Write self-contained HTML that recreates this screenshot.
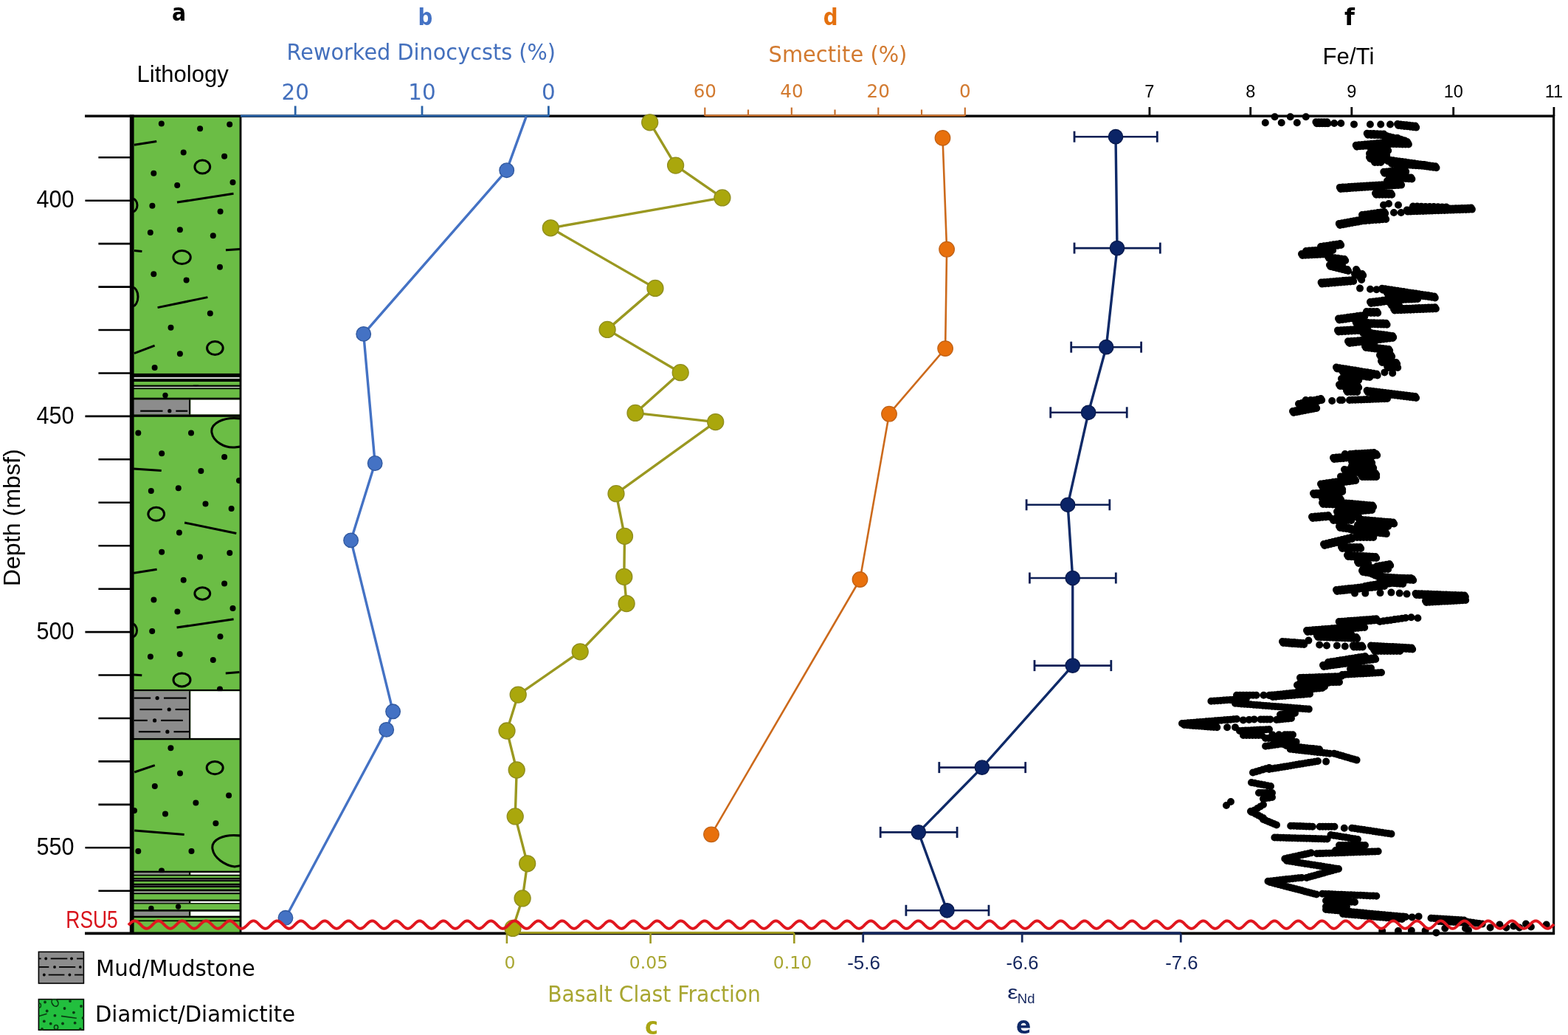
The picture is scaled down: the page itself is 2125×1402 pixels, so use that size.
<!DOCTYPE html>
<html><head><meta charset="utf-8"><title>Figure</title><style>html,body{margin:0;padding:0;background:#fff;overflow:hidden}svg{display:block}</style></head><body>
<svg width="2125" height="1402" viewBox="0 0 2125 1402">
<rect width="2125" height="1402" fill="#fff"/>
<defs><clipPath id="lc"><rect x="181" y="157" width="144" height="1106"/></clipPath><clipPath id="lg"><rect x="52" y="1353" width="62" height="43"/></clipPath></defs>
<rect x="181" y="157" width="144" height="1106" fill="#6bbd45"/>
<g clip-path="url(#lc)">
<circle cx="218.8" cy="167.4" r="4" fill="#000"/>
<circle cx="271.1" cy="174.3" r="4" fill="#000"/>
<circle cx="311.2" cy="168.5" r="4" fill="#000"/>
<circle cx="248.7" cy="206.5" r="4" fill="#000"/>
<circle cx="304.1" cy="211.8" r="4" fill="#000"/>
<circle cx="208.3" cy="234.7" r="4" fill="#000"/>
<circle cx="240.2" cy="251.1" r="4" fill="#000"/>
<circle cx="315.5" cy="247.1" r="4" fill="#000"/>
<circle cx="206.4" cy="278.8" r="4" fill="#000"/>
<circle cx="298.6" cy="286.5" r="4" fill="#000"/>
<circle cx="203.8" cy="315" r="4" fill="#000"/>
<circle cx="243.9" cy="311.3" r="4" fill="#000"/>
<circle cx="288.8" cy="319.2" r="4" fill="#000"/>
<circle cx="298" cy="361.7" r="4" fill="#000"/>
<circle cx="208.3" cy="371.2" r="4" fill="#000"/>
<circle cx="252.6" cy="379.4" r="4" fill="#000"/>
<circle cx="284.8" cy="424.6" r="4" fill="#000"/>
<circle cx="231.5" cy="443.8" r="4" fill="#000"/>
<circle cx="243.9" cy="479.2" r="4" fill="#000"/>
<circle cx="209.6" cy="497.9" r="4" fill="#000"/>
<circle cx="224" cy="535.4" r="4" fill="#000"/>
<circle cx="265.5" cy="519.8" r="4" fill="#000"/>
<circle cx="187.3" cy="586.4" r="4" fill="#000"/>
<circle cx="259" cy="586.4" r="4" fill="#000"/>
<circle cx="219.2" cy="614.3" r="4" fill="#000"/>
<circle cx="304.1" cy="619" r="4" fill="#000"/>
<circle cx="272.4" cy="637.9" r="4" fill="#000"/>
<circle cx="324" cy="651" r="4" fill="#000"/>
<circle cx="204.8" cy="664.9" r="4" fill="#000"/>
<circle cx="241.8" cy="661.3" r="4" fill="#000"/>
<circle cx="278.5" cy="682.4" r="4" fill="#000"/>
<circle cx="313.6" cy="689.1" r="4" fill="#000"/>
<circle cx="242.9" cy="721.4" r="4" fill="#000"/>
<circle cx="219.2" cy="747.8" r="4" fill="#000"/>
<circle cx="271" cy="754.5" r="4" fill="#000"/>
<circle cx="311.3" cy="748.9" r="4" fill="#000"/>
<circle cx="248.7" cy="785.7" r="4" fill="#000"/>
<circle cx="304.1" cy="790.4" r="4" fill="#000"/>
<circle cx="208.4" cy="812.4" r="4" fill="#000"/>
<circle cx="240.4" cy="828.5" r="4" fill="#000"/>
<circle cx="315.5" cy="824.1" r="4" fill="#000"/>
<circle cx="206.2" cy="855" r="4" fill="#000"/>
<circle cx="298.5" cy="862.2" r="4" fill="#000"/>
<circle cx="203.9" cy="889.4" r="4" fill="#000"/>
<circle cx="243.7" cy="886.1" r="4" fill="#000"/>
<circle cx="288.8" cy="893.9" r="4" fill="#000"/>
<circle cx="298" cy="933.4" r="4" fill="#000"/>
<circle cx="231.4" cy="1013.2" r="4" fill="#000"/>
<circle cx="244" cy="1047.4" r="4" fill="#000"/>
<circle cx="209.8" cy="1065" r="4" fill="#000"/>
<circle cx="310.1" cy="1077.4" r="4" fill="#000"/>
<circle cx="265.4" cy="1087.6" r="4" fill="#000"/>
<circle cx="224" cy="1102.5" r="4" fill="#000"/>
<circle cx="292.4" cy="1115.3" r="4" fill="#000"/>
<circle cx="187.3" cy="1153.1" r="4" fill="#000"/>
<circle cx="259.5" cy="1153.1" r="4" fill="#000"/>
<circle cx="219" cy="1179.4" r="4" fill="#000"/>
<circle cx="182" cy="1098" r="4" fill="#000"/>
<circle cx="204.9" cy="1230.4" r="4" fill="#000"/>
<circle cx="241.6" cy="1228.1" r="4" fill="#000"/>
<ellipse cx="274.3" cy="226" rx="10.4" ry="9" fill="none" stroke="#000" stroke-width="3"/>
<ellipse cx="246.6" cy="348.5" rx="11.7" ry="9" fill="none" stroke="#000" stroke-width="3"/>
<ellipse cx="291.4" cy="471.5" rx="10.8" ry="9" fill="none" stroke="#000" stroke-width="3"/>
<ellipse cx="179" cy="278" rx="7" ry="9" fill="none" stroke="#000" stroke-width="3"/>
<ellipse cx="179" cy="402" rx="8" ry="13" fill="none" stroke="#000" stroke-width="3"/>
<ellipse cx="211.7" cy="696.3" rx="10.9" ry="9" fill="none" stroke="#000" stroke-width="3"/>
<ellipse cx="274.3" cy="804" rx="10.4" ry="8.2" fill="none" stroke="#000" stroke-width="3"/>
<ellipse cx="246.5" cy="920.9" rx="11.5" ry="9" fill="none" stroke="#000" stroke-width="3"/>
<ellipse cx="179" cy="854" rx="6.5" ry="9" fill="none" stroke="#000" stroke-width="3"/>
<ellipse cx="291.2" cy="1040.1" rx="11" ry="8.6" fill="none" stroke="#000" stroke-width="3"/>
<line x1="181.9" y1="196.2" x2="212.2" y2="191.4" stroke="#000" stroke-width="3" stroke-linecap="butt"/>
<line x1="240" y1="274.1" x2="316.5" y2="262.2" stroke="#000" stroke-width="3" stroke-linecap="butt"/>
<line x1="181.9" y1="339.5" x2="192.4" y2="340.6" stroke="#000" stroke-width="3" stroke-linecap="butt"/>
<line x1="306" y1="338.8" x2="325.8" y2="337.4" stroke="#000" stroke-width="3" stroke-linecap="butt"/>
<line x1="213.6" y1="416.6" x2="281.4" y2="402.6" stroke="#000" stroke-width="3" stroke-linecap="butt"/>
<line x1="181.9" y1="478.7" x2="209.6" y2="468.1" stroke="#000" stroke-width="3" stroke-linecap="butt"/>
<line x1="181.1" y1="635.1" x2="218.7" y2="637.4" stroke="#000" stroke-width="3" stroke-linecap="butt"/>
<line x1="250.1" y1="708" x2="320.3" y2="722.5" stroke="#000" stroke-width="3" stroke-linecap="butt"/>
<line x1="181.1" y1="776.2" x2="212.6" y2="771.2" stroke="#000" stroke-width="3" stroke-linecap="butt"/>
<line x1="239.6" y1="850" x2="316.6" y2="838.8" stroke="#000" stroke-width="3" stroke-linecap="butt"/>
<line x1="181.1" y1="913.9" x2="192.3" y2="914.8" stroke="#000" stroke-width="3" stroke-linecap="butt"/>
<line x1="305.8" y1="912" x2="324.4" y2="910.6" stroke="#000" stroke-width="3" stroke-linecap="butt"/>
<line x1="182.2" y1="1046" x2="209.8" y2="1036.6" stroke="#000" stroke-width="3" stroke-linecap="butt"/>
<line x1="182.2" y1="1124.9" x2="249.7" y2="1130.4" stroke="#000" stroke-width="3" stroke-linecap="butt"/>
<path d="M326,567 C302,564 285,574 287,586 C289,598 304,607 318,606 L326,605" fill="none" stroke="#000" stroke-width="3"/>
<path d="M326,1132 C302,1129 286,1138 288,1150 C290,1162 304,1172 318,1174 L326,1172.6" fill="none" stroke="#000" stroke-width="3"/>
<rect x="181" y="505.9" width="144" height="5" fill="#000"/>
<rect x="181" y="510.9" width="144" height="2.3" fill="#d0d0d0"/>
<rect x="181" y="513.2" width="144" height="3.8" fill="#000"/>
<rect x="181" y="517" width="144" height="4.6" fill="#6bbd45"/>
<rect x="181" y="521.6" width="144" height="2.3" fill="#000"/>
<rect x="181" y="523.9" width="144" height="1.6" fill="#d0d0d0"/>
<rect x="181" y="525.5" width="144" height="1.9" fill="#000"/>
<rect x="181" y="527.4" width="144" height="11.3" fill="#6bbd45"/>
<rect x="181" y="538.7" width="144" height="2.9" fill="#000"/>
<rect x="181" y="541.6" width="75" height="19.9" fill="#8c8c8c"/>
<rect x="256" y="541.6" width="2.4" height="19.9" fill="#000"/>
<rect x="258.4" y="541.6" width="66.6" height="19.9" fill="#fff"/>
<rect x="181" y="561.5" width="144" height="3.3" fill="#000"/>
<rect x="181" y="933.9" width="144" height="2.4" fill="#000"/>
<rect x="181" y="936.3" width="75" height="63.6" fill="#8c8c8c"/>
<rect x="256" y="936.3" width="2.4" height="63.6" fill="#000"/>
<rect x="258.4" y="936.3" width="66.6" height="63.6" fill="#fff"/>
<rect x="181" y="999.9" width="144" height="2.4" fill="#000"/>
<rect x="181" y="1179.7" width="144" height="2.5" fill="#000"/>
<rect x="181" y="1182.2" width="75" height="2.6" fill="#8c8c8c"/>
<rect x="256" y="1182.2" width="2.4" height="2.6" fill="#000"/>
<rect x="258.4" y="1182.2" width="66.6" height="2.6" fill="#fff"/>
<rect x="181" y="1184.8" width="144" height="1.9" fill="#000"/>
<rect x="181" y="1186.7" width="144" height="2.3" fill="#6bbd45"/>
<rect x="181" y="1189" width="144" height="5.3" fill="#000"/>
<rect x="181" y="1191" width="144" height="1.3" fill="#5a5a5a"/>
<rect x="181" y="1194.3" width="144" height="2.5" fill="#6bbd45"/>
<rect x="181" y="1196.8" width="144" height="5.6" fill="#000"/>
<rect x="181" y="1199.2" width="144" height="1" fill="#5a5a5a"/>
<rect x="181" y="1202.4" width="144" height="2.2" fill="#6bbd45"/>
<rect x="181" y="1204.6" width="144" height="3.1" fill="#000"/>
<rect x="181" y="1207.7" width="144" height="1.5" fill="#d0d0d0"/>
<rect x="181" y="1209.2" width="144" height="2.3" fill="#000"/>
<rect x="181" y="1211.5" width="144" height="7" fill="#6bbd45"/>
<rect x="181" y="1218.5" width="144" height="2.4" fill="#000"/>
<rect x="181" y="1220.9" width="75" height="2.3" fill="#8c8c8c"/>
<rect x="256" y="1220.9" width="2.4" height="2.3" fill="#000"/>
<rect x="258.4" y="1220.9" width="66.6" height="2.3" fill="#fff"/>
<rect x="181" y="1223.2" width="144" height="1.5" fill="#000"/>
<rect x="181" y="1224.7" width="144" height="7.4" fill="#6bbd45"/>
<rect x="181" y="1232.1" width="144" height="2.7" fill="#000"/>
<rect x="181" y="1234.8" width="75" height="5.9" fill="#8c8c8c"/>
<rect x="256" y="1234.8" width="2.4" height="5.9" fill="#000"/>
<rect x="258.4" y="1234.8" width="66.6" height="5.9" fill="#fff"/>
<rect x="181" y="1240.7" width="144" height="2.7" fill="#000"/>
<rect x="181" y="1243.4" width="144" height="3.1" fill="#6bbd45"/>
<rect x="181" y="1246.5" width="144" height="1.9" fill="#000"/>
<rect x="181" y="1248.4" width="144" height="14.1" fill="#6bbd45"/>
<circle cx="204.9" cy="1230.4" r="3.7" fill="#000"/>
<circle cx="241.6" cy="1228.1" r="3.7" fill="#000"/>
<circle cx="224" cy="535.4" r="3.7" fill="#000"/>
<line x1="190.2" y1="556.7" x2="220.5" y2="556.7" stroke="#000" stroke-width="2.2" stroke-linecap="butt"/>
<circle cx="229.8" cy="556.7" r="2.6" fill="#000"/>
<line x1="238.3" y1="556.7" x2="254.2" y2="556.7" stroke="#000" stroke-width="2.2" stroke-linecap="butt"/>
<line x1="181.6" y1="945.6" x2="204.2" y2="945.6" stroke="#000" stroke-width="2.2" stroke-linecap="butt"/>
<circle cx="213.1" cy="945.6" r="2.6" fill="#000"/>
<line x1="222" y1="945.6" x2="252.7" y2="945.6" stroke="#000" stroke-width="2.2" stroke-linecap="butt"/>
<line x1="189.4" y1="961" x2="219.7" y2="961" stroke="#000" stroke-width="2.2" stroke-linecap="butt"/>
<circle cx="229.2" cy="961" r="2.6" fill="#000"/>
<line x1="237.6" y1="961" x2="256" y2="961" stroke="#000" stroke-width="2.2" stroke-linecap="butt"/>
<line x1="181.6" y1="975.9" x2="199.8" y2="975.9" stroke="#000" stroke-width="2.2" stroke-linecap="butt"/>
<circle cx="209.6" cy="975.9" r="2.6" fill="#000"/>
<line x1="218.2" y1="975.9" x2="247.8" y2="975.9" stroke="#000" stroke-width="2.2" stroke-linecap="butt"/>
<line x1="187.9" y1="991.2" x2="217.4" y2="991.2" stroke="#000" stroke-width="2.2" stroke-linecap="butt"/>
<circle cx="226.9" cy="991.2" r="2.6" fill="#000"/>
<line x1="235.5" y1="991.2" x2="256" y2="991.2" stroke="#000" stroke-width="2.2" stroke-linecap="butt"/>
</g>
<line x1="178.7" y1="155.5" x2="178.7" y2="1266" stroke="#000" stroke-width="5.8" stroke-linecap="butt"/>
<line x1="326" y1="156" x2="326" y2="1265" stroke="#000" stroke-width="2.8" stroke-linecap="butt"/>
<line x1="115" y1="157.3" x2="2107" y2="157.3" stroke="#000" stroke-width="3.4" stroke-linecap="butt"/>
<line x1="115" y1="1264.4" x2="2107" y2="1264.4" stroke="#000" stroke-width="3.8" stroke-linecap="butt"/>
<line x1="2105.6" y1="156" x2="2105.6" y2="1265.8" stroke="#000" stroke-width="3.2" stroke-linecap="butt"/>
<line x1="133.4" y1="213.3" x2="177" y2="213.3" stroke="#000" stroke-width="2.6" stroke-linecap="butt"/>
<line x1="115.4" y1="271.7" x2="177" y2="271.7" stroke="#000" stroke-width="2.6" stroke-linecap="butt"/>
<line x1="133.4" y1="330.1" x2="177" y2="330.1" stroke="#000" stroke-width="2.6" stroke-linecap="butt"/>
<line x1="133.4" y1="388.6" x2="177" y2="388.6" stroke="#000" stroke-width="2.6" stroke-linecap="butt"/>
<line x1="133.4" y1="447" x2="177" y2="447" stroke="#000" stroke-width="2.6" stroke-linecap="butt"/>
<line x1="133.4" y1="505.5" x2="177" y2="505.5" stroke="#000" stroke-width="2.6" stroke-linecap="butt"/>
<line x1="115.4" y1="563.9" x2="177" y2="563.9" stroke="#000" stroke-width="2.6" stroke-linecap="butt"/>
<line x1="133.4" y1="622.3" x2="177" y2="622.3" stroke="#000" stroke-width="2.6" stroke-linecap="butt"/>
<line x1="133.4" y1="680.8" x2="177" y2="680.8" stroke="#000" stroke-width="2.6" stroke-linecap="butt"/>
<line x1="133.4" y1="739.2" x2="177" y2="739.2" stroke="#000" stroke-width="2.6" stroke-linecap="butt"/>
<line x1="133.4" y1="797.7" x2="177" y2="797.7" stroke="#000" stroke-width="2.6" stroke-linecap="butt"/>
<line x1="115.4" y1="856.1" x2="177" y2="856.1" stroke="#000" stroke-width="2.6" stroke-linecap="butt"/>
<line x1="133.4" y1="914.5" x2="177" y2="914.5" stroke="#000" stroke-width="2.6" stroke-linecap="butt"/>
<line x1="133.4" y1="973" x2="177" y2="973" stroke="#000" stroke-width="2.6" stroke-linecap="butt"/>
<line x1="133.4" y1="1031.4" x2="177" y2="1031.4" stroke="#000" stroke-width="2.6" stroke-linecap="butt"/>
<line x1="133.4" y1="1089.9" x2="177" y2="1089.9" stroke="#000" stroke-width="2.6" stroke-linecap="butt"/>
<line x1="115.4" y1="1148.3" x2="177" y2="1148.3" stroke="#000" stroke-width="2.6" stroke-linecap="butt"/>
<line x1="133.4" y1="1206.7" x2="177" y2="1206.7" stroke="#000" stroke-width="2.6" stroke-linecap="butt"/>
<text x="49.6" y="281.4" font-family="'Liberation Sans', Arial, sans-serif" font-size="32.3" fill="#000" text-anchor="start" font-weight="normal" textLength="51" lengthAdjust="spacingAndGlyphs">400</text>
<text x="49.6" y="573.6" font-family="'Liberation Sans', Arial, sans-serif" font-size="32.3" fill="#000" text-anchor="start" font-weight="normal" textLength="51" lengthAdjust="spacingAndGlyphs">450</text>
<text x="49.6" y="865.8" font-family="'Liberation Sans', Arial, sans-serif" font-size="32.3" fill="#000" text-anchor="start" font-weight="normal" textLength="51" lengthAdjust="spacingAndGlyphs">500</text>
<text x="49.6" y="1158" font-family="'Liberation Sans', Arial, sans-serif" font-size="32.3" fill="#000" text-anchor="start" font-weight="normal" textLength="51" lengthAdjust="spacingAndGlyphs">550</text>
<text x="0" y="0" font-family="'Liberation Sans', Arial, sans-serif" font-size="32" fill="#000" text-anchor="start" font-weight="normal" textLength="186" lengthAdjust="spacingAndGlyphs" transform="translate(27.4,794.3) rotate(-90)">Depth (mbsf)</text>
<line x1="326" y1="157.1" x2="744.4" y2="157.1" stroke="#2a63a8" stroke-width="3" stroke-linecap="butt"/>
<line x1="400.2" y1="143.5" x2="400.2" y2="157" stroke="#2a63a8" stroke-width="2.8" stroke-linecap="butt"/>
<text x="400.2" y="135.3" font-family="'DejaVu Sans', sans-serif" font-size="29.4" fill="#4470bd" text-anchor="middle" font-weight="normal">20</text>
<line x1="572" y1="143.5" x2="572" y2="157" stroke="#2a63a8" stroke-width="2.8" stroke-linecap="butt"/>
<text x="572" y="135.3" font-family="'DejaVu Sans', sans-serif" font-size="29.4" fill="#4470bd" text-anchor="middle" font-weight="normal">10</text>
<line x1="743.4" y1="143.5" x2="743.4" y2="157" stroke="#2a63a8" stroke-width="2.8" stroke-linecap="butt"/>
<text x="743.4" y="135.3" font-family="'DejaVu Sans', sans-serif" font-size="29.4" fill="#4470bd" text-anchor="middle" font-weight="normal">0</text>
<line x1="955.3" y1="156.5" x2="1307.8" y2="156.5" stroke="#c8702c" stroke-width="2.4" stroke-linecap="butt"/>
<line x1="955.3" y1="145.6" x2="955.3" y2="157" stroke="#c8702c" stroke-width="2.2" stroke-linecap="butt"/>
<line x1="1014" y1="148.5" x2="1014" y2="157" stroke="#c8702c" stroke-width="2.2" stroke-linecap="butt"/>
<line x1="1072.8" y1="145.6" x2="1072.8" y2="157" stroke="#c8702c" stroke-width="2.2" stroke-linecap="butt"/>
<line x1="1131.5" y1="148.5" x2="1131.5" y2="157" stroke="#c8702c" stroke-width="2.2" stroke-linecap="butt"/>
<line x1="1190.3" y1="145.6" x2="1190.3" y2="157" stroke="#c8702c" stroke-width="2.2" stroke-linecap="butt"/>
<line x1="1249" y1="148.5" x2="1249" y2="157" stroke="#c8702c" stroke-width="2.2" stroke-linecap="butt"/>
<line x1="1307.8" y1="145.6" x2="1307.8" y2="157" stroke="#c8702c" stroke-width="2.2" stroke-linecap="butt"/>
<text x="955.3" y="131.8" font-family="'DejaVu Sans', sans-serif" font-size="24.6" fill="#d27a30" text-anchor="middle" font-weight="normal">60</text>
<text x="1072.9" y="131.8" font-family="'DejaVu Sans', sans-serif" font-size="24.6" fill="#d27a30" text-anchor="middle" font-weight="normal">40</text>
<text x="1190.2" y="131.8" font-family="'DejaVu Sans', sans-serif" font-size="24.6" fill="#d27a30" text-anchor="middle" font-weight="normal">20</text>
<text x="1307.8" y="131.8" font-family="'DejaVu Sans', sans-serif" font-size="24.6" fill="#d27a30" text-anchor="middle" font-weight="normal">0</text>
<line x1="1557.9" y1="145" x2="1557.9" y2="157" stroke="#000" stroke-width="2.8" stroke-linecap="butt"/>
<text x="1557.9" y="131.5" font-family="'Liberation Sans', Arial, sans-serif" font-size="23.5" fill="#000" text-anchor="middle" font-weight="normal">7</text>
<line x1="1694.7" y1="145" x2="1694.7" y2="157" stroke="#000" stroke-width="2.8" stroke-linecap="butt"/>
<text x="1694.7" y="131.5" font-family="'Liberation Sans', Arial, sans-serif" font-size="23.5" fill="#000" text-anchor="middle" font-weight="normal">8</text>
<line x1="1831.8" y1="145" x2="1831.8" y2="157" stroke="#000" stroke-width="2.8" stroke-linecap="butt"/>
<text x="1831.8" y="131.5" font-family="'Liberation Sans', Arial, sans-serif" font-size="23.5" fill="#000" text-anchor="middle" font-weight="normal">9</text>
<line x1="1969.7" y1="145" x2="1969.7" y2="157" stroke="#000" stroke-width="2.8" stroke-linecap="butt"/>
<text x="1969.7" y="131.5" font-family="'Liberation Sans', Arial, sans-serif" font-size="23.5" fill="#000" text-anchor="middle" font-weight="normal">10</text>
<line x1="2105.9" y1="145" x2="2105.9" y2="157" stroke="#000" stroke-width="2.8" stroke-linecap="butt"/>
<text x="2105.9" y="131.5" font-family="'Liberation Sans', Arial, sans-serif" font-size="23.5" fill="#000" text-anchor="middle" font-weight="normal">11</text>
<line x1="686.9" y1="1263.6" x2="1076.3" y2="1263.6" stroke="#9f9a22" stroke-width="3" stroke-linecap="butt"/>
<line x1="686.9" y1="1264" x2="686.9" y2="1278" stroke="#9f9a22" stroke-width="2.6" stroke-linecap="butt"/>
<line x1="881.6" y1="1264" x2="881.6" y2="1278" stroke="#9f9a22" stroke-width="2.6" stroke-linecap="butt"/>
<line x1="1076.3" y1="1264" x2="1076.3" y2="1278" stroke="#9f9a22" stroke-width="2.6" stroke-linecap="butt"/>
<text x="691" y="1312.2" font-family="'DejaVu Sans', sans-serif" font-size="23.5" fill="#a8a631" text-anchor="middle" font-weight="normal">0</text>
<text x="879" y="1312.2" font-family="'DejaVu Sans', sans-serif" font-size="23.5" fill="#a8a631" text-anchor="middle" font-weight="normal">0.05</text>
<text x="1074" y="1312.2" font-family="'DejaVu Sans', sans-serif" font-size="23.5" fill="#a8a631" text-anchor="middle" font-weight="normal">0.10</text>
<line x1="1169.5" y1="1264" x2="1600.3" y2="1264" stroke="#16295f" stroke-width="3.4" stroke-linecap="butt"/>
<line x1="1169.7" y1="1264" x2="1169.7" y2="1276.6" stroke="#16295f" stroke-width="2.8" stroke-linecap="butt"/>
<line x1="1385.2" y1="1264" x2="1385.2" y2="1276.6" stroke="#16295f" stroke-width="2.8" stroke-linecap="butt"/>
<line x1="1600.3" y1="1264" x2="1600.3" y2="1276.6" stroke="#16295f" stroke-width="2.8" stroke-linecap="butt"/>
<text x="1148.2" y="1312.5" font-family="'Liberation Sans', Arial, sans-serif" font-size="25.5" fill="#14265e" text-anchor="start" font-weight="normal" textLength="44.8" lengthAdjust="spacingAndGlyphs">-5.6</text>
<text x="1363.5" y="1312.5" font-family="'Liberation Sans', Arial, sans-serif" font-size="25.5" fill="#14265e" text-anchor="start" font-weight="normal" textLength="44.1" lengthAdjust="spacingAndGlyphs">-6.6</text>
<text x="1579.2" y="1312.5" font-family="'Liberation Sans', Arial, sans-serif" font-size="25.5" fill="#14265e" text-anchor="start" font-weight="normal" textLength="44.4" lengthAdjust="spacingAndGlyphs">-7.6</text>
<text x="233.1" y="27.8" font-family="'DejaVu Sans', sans-serif" font-size="32" fill="#000" text-anchor="start" font-weight="bold" textLength="19.2" lengthAdjust="spacingAndGlyphs">a</text>
<text x="185.6" y="110.9" font-family="'Liberation Sans', Arial, sans-serif" font-size="31" fill="#000" text-anchor="start" font-weight="normal" textLength="124.1" lengthAdjust="spacingAndGlyphs">Lithology</text>
<text x="566.5" y="33.9" font-family="'DejaVu Sans', sans-serif" font-size="32" fill="#4472c4" text-anchor="start" font-weight="bold" textLength="19.8" lengthAdjust="spacingAndGlyphs">b</text>
<text x="388.6" y="80.7" font-family="'DejaVu Sans', sans-serif" font-size="29.4" fill="#4470bd" text-anchor="start" font-weight="normal" textLength="364.4" lengthAdjust="spacingAndGlyphs">Reworked Dinocycsts (%)</text>
<text x="1115.7" y="33.9" font-family="'DejaVu Sans', sans-serif" font-size="32" fill="#e4700e" text-anchor="start" font-weight="bold" textLength="19.8" lengthAdjust="spacingAndGlyphs">d</text>
<text x="1041.6" y="84" font-family="'DejaVu Sans', sans-serif" font-size="29.4" fill="#d27a30" text-anchor="start" font-weight="normal" textLength="187.8" lengthAdjust="spacingAndGlyphs">Smectite (%)</text>
<text x="1822" y="34.4" font-family="'DejaVu Sans', sans-serif" font-size="32" fill="#000" text-anchor="start" font-weight="bold" textLength="13.9" lengthAdjust="spacingAndGlyphs">f</text>
<text x="1792.6" y="86.8" font-family="'Liberation Sans', Arial, sans-serif" font-size="31" fill="#000" text-anchor="start" font-weight="normal" textLength="69.8" lengthAdjust="spacingAndGlyphs">Fe/Ti</text>
<text x="742.2" y="1356.7" font-family="'DejaVu Sans', sans-serif" font-size="29.4" fill="#a8a631" text-anchor="start" font-weight="normal" textLength="288.8" lengthAdjust="spacingAndGlyphs">Basalt Clast Fraction</text>
<text x="874" y="1400.5" font-family="'DejaVu Sans', sans-serif" font-size="32" fill="#a9a514" text-anchor="start" font-weight="bold" textLength="18" lengthAdjust="spacingAndGlyphs">c</text>
<text x="1365.2" y="1353" font-family="'Liberation Sans', Arial, sans-serif" font-size="26" fill="#14265e" text-anchor="start" font-weight="normal" textLength="14.4" lengthAdjust="spacingAndGlyphs">&#949;</text>
<text x="1378.8" y="1359.4" font-family="'Liberation Sans', Arial, sans-serif" font-size="19" fill="#14265e" text-anchor="start" font-weight="normal" textLength="23.7" lengthAdjust="spacingAndGlyphs">Nd</text>
<text x="1377.1" y="1400.4" font-family="'DejaVu Sans', sans-serif" font-size="32" fill="#0f2a68" text-anchor="start" font-weight="bold" textLength="20.3" lengthAdjust="spacingAndGlyphs">e</text>
<text x="89.3" y="1256.9" font-family="'Liberation Sans', Arial, sans-serif" font-size="33" fill="#d8141c" text-anchor="start" font-weight="normal" textLength="70.5" lengthAdjust="spacingAndGlyphs">RSU5</text>
<rect x="52.4" y="1289.4" width="61" height="42.6" fill="#8c8c8c" stroke="#000" stroke-width="1.6"/>
<line x1="52.5" y1="1298.5" x2="55.7" y2="1298.5" stroke="#000" stroke-width="1.8" stroke-linecap="butt"/>
<circle cx="62.2" cy="1298.5" r="1.9" fill="#000"/>
<line x1="68.7" y1="1298.5" x2="91.3" y2="1298.5" stroke="#000" stroke-width="1.8" stroke-linecap="butt"/>
<circle cx="97" cy="1298.5" r="1.9" fill="#000"/>
<line x1="104" y1="1298.5" x2="112.7" y2="1298.5" stroke="#000" stroke-width="1.8" stroke-linecap="butt"/>
<line x1="52.5" y1="1309.9" x2="66.3" y2="1309.9" stroke="#000" stroke-width="1.8" stroke-linecap="butt"/>
<circle cx="74" cy="1309.9" r="1.9" fill="#000"/>
<line x1="80" y1="1309.9" x2="102.2" y2="1309.9" stroke="#000" stroke-width="1.8" stroke-linecap="butt"/>
<circle cx="108.8" cy="1309.9" r="1.9" fill="#000"/>
<circle cx="59.8" cy="1320.5" r="1.9" fill="#000"/>
<line x1="65.7" y1="1320.5" x2="87.4" y2="1320.5" stroke="#000" stroke-width="1.8" stroke-linecap="butt"/>
<circle cx="94.4" cy="1320.5" r="1.9" fill="#000"/>
<line x1="101" y1="1320.5" x2="112.7" y2="1320.5" stroke="#000" stroke-width="1.8" stroke-linecap="butt"/>
<rect x="52.4" y="1353.6" width="61" height="41.6" fill="#22bf3e" stroke="#000" stroke-width="1.6"/>
<g clip-path="url(#lg)" fill="#0a3a12">
<circle cx="61" cy="1357.5" r="1.9" fill="#0a3a12"/>
<circle cx="95" cy="1356" r="1.9" fill="#0a3a12"/>
<circle cx="110" cy="1363" r="1.9" fill="#0a3a12"/>
<circle cx="87.5" cy="1366" r="1.9" fill="#0a3a12"/>
<circle cx="63.7" cy="1369.5" r="1.9" fill="#0a3a12"/>
<circle cx="99.9" cy="1371.6" r="1.9" fill="#0a3a12"/>
<circle cx="74.4" cy="1375.7" r="1.9" fill="#0a3a12"/>
<circle cx="59.8" cy="1383.4" r="1.9" fill="#0a3a12"/>
<circle cx="68.7" cy="1386.7" r="1.9" fill="#0a3a12"/>
<circle cx="85" cy="1386.5" r="1.9" fill="#0a3a12"/>
<circle cx="101.6" cy="1385.7" r="1.9" fill="#0a3a12"/>
<circle cx="57" cy="1394" r="1.9" fill="#0a3a12"/>
<circle cx="108.8" cy="1394" r="1.9" fill="#0a3a12"/>
<circle cx="112.5" cy="1379" r="1.9" fill="#0a3a12"/>
<ellipse cx="74.5" cy="1358" rx="4" ry="5.5" transform="rotate(-30 74.5 1358)" fill="none" stroke="#0a3a12" stroke-width="1.6"/>
<ellipse cx="76" cy="1391.5" rx="2.6" ry="3" fill="none" stroke="#0a3a12" stroke-width="1.6"/>
<ellipse cx="53" cy="1362" rx="2.5" ry="3" fill="none" stroke="#0a3a12" stroke-width="1.4"/>
<line x1="52.5" y1="1376.5" x2="63.5" y2="1373.2" stroke="#0a3a12" stroke-width="1.6" stroke-linecap="butt"/>
<line x1="83" y1="1376.4" x2="103.8" y2="1379.2" stroke="#0a3a12" stroke-width="1.6" stroke-linecap="butt"/>
</g>
<text x="130" y="1321.6" font-family="'DejaVu Sans', sans-serif" font-size="29.4" fill="#000" text-anchor="start" font-weight="normal" textLength="215.8" lengthAdjust="spacingAndGlyphs">Mud/Mudstone</text>
<text x="129" y="1383.6" font-family="'DejaVu Sans', sans-serif" font-size="29.4" fill="#000" text-anchor="start" font-weight="normal" textLength="271" lengthAdjust="spacingAndGlyphs">Diamict/Diamictite</text>
<polyline points="713.1,158.2 686.7,230.7 492.7,452.4 508.2,627.5 475.6,731.9 532.6,963.8 523.7,988.4 387,1243.3" fill="none" stroke="#4472c4" stroke-width="3.4" stroke-linejoin="round"/>
<circle cx="686.7" cy="230.7" r="9.8" fill="#4472c4" stroke="#30589e" stroke-width="1.3"/>
<circle cx="492.7" cy="452.4" r="9.8" fill="#4472c4" stroke="#30589e" stroke-width="1.3"/>
<circle cx="508.2" cy="627.5" r="9.8" fill="#4472c4" stroke="#30589e" stroke-width="1.3"/>
<circle cx="475.6" cy="731.9" r="9.8" fill="#4472c4" stroke="#30589e" stroke-width="1.3"/>
<circle cx="532.6" cy="963.8" r="9.8" fill="#4472c4" stroke="#30589e" stroke-width="1.3"/>
<circle cx="523.7" cy="988.4" r="9.8" fill="#4472c4" stroke="#30589e" stroke-width="1.3"/>
<circle cx="387" cy="1243.3" r="9.8" fill="#4472c4" stroke="#30589e" stroke-width="1.3"/>
<polyline points="880.7,165.8 915.6,224.1 978.9,267.9 746.3,308.8 888,390.4 823.1,446.4 922.2,504.7 861,559.4 969.7,571.6 835,668.7 846.5,726.3 845.8,781.3 849.1,817.6 786.2,882.8 702.2,941.1 687,990 700.2,1043 698.2,1105.9 714.7,1169.8 708.1,1216.9 695,1257.4" fill="none" stroke="#9a9820" stroke-width="3.4" stroke-linejoin="round"/>
<circle cx="880.7" cy="165.8" r="11" fill="#aaa70c" stroke="#8f8d1e" stroke-width="1.3"/>
<circle cx="915.6" cy="224.1" r="11" fill="#aaa70c" stroke="#8f8d1e" stroke-width="1.3"/>
<circle cx="978.9" cy="267.9" r="11" fill="#aaa70c" stroke="#8f8d1e" stroke-width="1.3"/>
<circle cx="746.3" cy="308.8" r="11" fill="#aaa70c" stroke="#8f8d1e" stroke-width="1.3"/>
<circle cx="888" cy="390.4" r="11" fill="#aaa70c" stroke="#8f8d1e" stroke-width="1.3"/>
<circle cx="823.1" cy="446.4" r="11" fill="#aaa70c" stroke="#8f8d1e" stroke-width="1.3"/>
<circle cx="922.2" cy="504.7" r="11" fill="#aaa70c" stroke="#8f8d1e" stroke-width="1.3"/>
<circle cx="861" cy="559.4" r="11" fill="#aaa70c" stroke="#8f8d1e" stroke-width="1.3"/>
<circle cx="969.7" cy="571.6" r="11" fill="#aaa70c" stroke="#8f8d1e" stroke-width="1.3"/>
<circle cx="835" cy="668.7" r="11" fill="#aaa70c" stroke="#8f8d1e" stroke-width="1.3"/>
<circle cx="846.5" cy="726.3" r="11" fill="#aaa70c" stroke="#8f8d1e" stroke-width="1.3"/>
<circle cx="845.8" cy="781.3" r="11" fill="#aaa70c" stroke="#8f8d1e" stroke-width="1.3"/>
<circle cx="849.1" cy="817.6" r="11" fill="#aaa70c" stroke="#8f8d1e" stroke-width="1.3"/>
<circle cx="786.2" cy="882.8" r="11" fill="#aaa70c" stroke="#8f8d1e" stroke-width="1.3"/>
<circle cx="702.2" cy="941.1" r="11" fill="#aaa70c" stroke="#8f8d1e" stroke-width="1.3"/>
<circle cx="687" cy="990" r="11" fill="#aaa70c" stroke="#8f8d1e" stroke-width="1.3"/>
<circle cx="700.2" cy="1043" r="11" fill="#aaa70c" stroke="#8f8d1e" stroke-width="1.3"/>
<circle cx="698.2" cy="1105.9" r="11" fill="#aaa70c" stroke="#8f8d1e" stroke-width="1.3"/>
<circle cx="714.7" cy="1169.8" r="11" fill="#aaa70c" stroke="#8f8d1e" stroke-width="1.3"/>
<circle cx="708.1" cy="1216.9" r="11" fill="#aaa70c" stroke="#8f8d1e" stroke-width="1.3"/>
<circle cx="695" cy="1257.4" r="11" fill="#aaa70c" stroke="#8f8d1e" stroke-width="1.3"/>
<polyline points="1277.5,186.9 1283.1,337.7 1281.1,472.1 1205,560.7 1165.5,785 964,1130.3" fill="none" stroke="#cc6a1c" stroke-width="2.6" stroke-linejoin="round"/>
<circle cx="1277.5" cy="186.9" r="10.3" fill="#e8700c" stroke="#bf6015" stroke-width="1.2"/>
<circle cx="1283.1" cy="337.7" r="10.3" fill="#e8700c" stroke="#bf6015" stroke-width="1.2"/>
<circle cx="1281.1" cy="472.1" r="10.3" fill="#e8700c" stroke="#bf6015" stroke-width="1.2"/>
<circle cx="1205" cy="560.7" r="10.3" fill="#e8700c" stroke="#bf6015" stroke-width="1.2"/>
<circle cx="1165.5" cy="785" r="10.3" fill="#e8700c" stroke="#bf6015" stroke-width="1.2"/>
<circle cx="964" cy="1130.3" r="10.3" fill="#e8700c" stroke="#bf6015" stroke-width="1.2"/>
<line x1="1456" y1="185.2" x2="1568.3" y2="185.2" stroke="#0d1f55" stroke-width="2.6" stroke-linecap="butt"/>
<line x1="1456" y1="177.7" x2="1456" y2="192.7" stroke="#0d1f55" stroke-width="2.8" stroke-linecap="butt"/>
<line x1="1568.3" y1="177.7" x2="1568.3" y2="192.7" stroke="#0d1f55" stroke-width="2.8" stroke-linecap="butt"/>
<line x1="1456" y1="336.1" x2="1572.3" y2="336.1" stroke="#0d1f55" stroke-width="2.6" stroke-linecap="butt"/>
<line x1="1456" y1="328.6" x2="1456" y2="343.6" stroke="#0d1f55" stroke-width="2.8" stroke-linecap="butt"/>
<line x1="1572.3" y1="328.6" x2="1572.3" y2="343.6" stroke="#0d1f55" stroke-width="2.8" stroke-linecap="butt"/>
<line x1="1451.7" y1="470.2" x2="1546.6" y2="470.2" stroke="#0d1f55" stroke-width="2.6" stroke-linecap="butt"/>
<line x1="1451.7" y1="462.7" x2="1451.7" y2="477.7" stroke="#0d1f55" stroke-width="2.8" stroke-linecap="butt"/>
<line x1="1546.6" y1="462.7" x2="1546.6" y2="477.7" stroke="#0d1f55" stroke-width="2.8" stroke-linecap="butt"/>
<line x1="1423.7" y1="558.8" x2="1527.2" y2="558.8" stroke="#0d1f55" stroke-width="2.6" stroke-linecap="butt"/>
<line x1="1423.7" y1="551.3" x2="1423.7" y2="566.3" stroke="#0d1f55" stroke-width="2.8" stroke-linecap="butt"/>
<line x1="1527.2" y1="551.3" x2="1527.2" y2="566.3" stroke="#0d1f55" stroke-width="2.8" stroke-linecap="butt"/>
<line x1="1391.1" y1="683.8" x2="1503.8" y2="683.8" stroke="#0d1f55" stroke-width="2.6" stroke-linecap="butt"/>
<line x1="1391.1" y1="676.3" x2="1391.1" y2="691.3" stroke="#0d1f55" stroke-width="2.8" stroke-linecap="butt"/>
<line x1="1503.8" y1="676.3" x2="1503.8" y2="691.3" stroke="#0d1f55" stroke-width="2.8" stroke-linecap="butt"/>
<line x1="1395.4" y1="783" x2="1512.3" y2="783" stroke="#0d1f55" stroke-width="2.6" stroke-linecap="butt"/>
<line x1="1395.4" y1="775.5" x2="1395.4" y2="790.5" stroke="#0d1f55" stroke-width="2.8" stroke-linecap="butt"/>
<line x1="1512.3" y1="775.5" x2="1512.3" y2="790.5" stroke="#0d1f55" stroke-width="2.8" stroke-linecap="butt"/>
<line x1="1402" y1="901.6" x2="1505.8" y2="901.6" stroke="#0d1f55" stroke-width="2.6" stroke-linecap="butt"/>
<line x1="1402" y1="894.1" x2="1402" y2="909.1" stroke="#0d1f55" stroke-width="2.8" stroke-linecap="butt"/>
<line x1="1505.8" y1="894.1" x2="1505.8" y2="909.1" stroke="#0d1f55" stroke-width="2.8" stroke-linecap="butt"/>
<line x1="1272.8" y1="1039.6" x2="1389.7" y2="1039.6" stroke="#0d1f55" stroke-width="2.6" stroke-linecap="butt"/>
<line x1="1272.8" y1="1032.1" x2="1272.8" y2="1047.1" stroke="#0d1f55" stroke-width="2.8" stroke-linecap="butt"/>
<line x1="1389.7" y1="1032.1" x2="1389.7" y2="1047.1" stroke="#0d1f55" stroke-width="2.8" stroke-linecap="butt"/>
<line x1="1193.2" y1="1127.4" x2="1297.1" y2="1127.4" stroke="#0d1f55" stroke-width="2.6" stroke-linecap="butt"/>
<line x1="1193.2" y1="1119.9" x2="1193.2" y2="1134.9" stroke="#0d1f55" stroke-width="2.8" stroke-linecap="butt"/>
<line x1="1297.1" y1="1119.9" x2="1297.1" y2="1134.9" stroke="#0d1f55" stroke-width="2.8" stroke-linecap="butt"/>
<line x1="1227.9" y1="1233.3" x2="1340" y2="1233.3" stroke="#0d1f55" stroke-width="2.6" stroke-linecap="butt"/>
<line x1="1227.9" y1="1225.8" x2="1227.9" y2="1240.8" stroke="#0d1f55" stroke-width="2.8" stroke-linecap="butt"/>
<line x1="1340" y1="1225.8" x2="1340" y2="1240.8" stroke="#0d1f55" stroke-width="2.8" stroke-linecap="butt"/>
<polyline points="1512,185.2 1514,336.1 1499.2,470.2 1475.1,558.8 1447.1,683.8 1453.7,783 1453.7,901.6 1330.9,1039.6 1244.8,1127.4 1283.5,1233.3" fill="none" stroke="#0f2a68" stroke-width="3.4" stroke-linejoin="round"/>
<circle cx="1512" cy="185.2" r="9.7" fill="#0b2466" stroke="#07194c" stroke-width="1.3"/>
<circle cx="1514" cy="336.1" r="9.7" fill="#0b2466" stroke="#07194c" stroke-width="1.3"/>
<circle cx="1499.2" cy="470.2" r="9.7" fill="#0b2466" stroke="#07194c" stroke-width="1.3"/>
<circle cx="1475.1" cy="558.8" r="9.7" fill="#0b2466" stroke="#07194c" stroke-width="1.3"/>
<circle cx="1447.1" cy="683.8" r="9.7" fill="#0b2466" stroke="#07194c" stroke-width="1.3"/>
<circle cx="1453.7" cy="783" r="9.7" fill="#0b2466" stroke="#07194c" stroke-width="1.3"/>
<circle cx="1453.7" cy="901.6" r="9.7" fill="#0b2466" stroke="#07194c" stroke-width="1.3"/>
<circle cx="1330.9" cy="1039.6" r="9.7" fill="#0b2466" stroke="#07194c" stroke-width="1.3"/>
<circle cx="1244.8" cy="1127.4" r="9.7" fill="#0b2466" stroke="#07194c" stroke-width="1.3"/>
<circle cx="1283.5" cy="1233.3" r="9.7" fill="#0b2466" stroke="#07194c" stroke-width="1.3"/>
<path d="M1783.4 165.3h0M1784.6 167.3h0M1787.2 165.3h0M1788.4 167.3h0M1790.9 165.3h0M1792.1 167.3h0M1794.7 165.3h0M1795.9 167.3h0M1798.4 165.3h0M1799.6 167.3h0M1894.0 168.0h0M1895.2 170.0h0M1898.0 168.4h0M1899.2 170.4h0M1902.0 168.9h0M1903.2 170.9h0M1906.0 169.3h0M1907.2 171.3h0M1910.0 169.7h0M1911.2 171.7h0M1914.0 170.2h0M1915.2 172.2h0M1918.0 170.6h0M1919.2 172.6h0M1852.7 180.8h0M1853.9 182.8h0M1857.2 181.0h0M1858.4 183.0h0M1861.7 181.1h0M1862.9 183.1h0M1866.3 181.3h0M1867.5 183.3h0M1870.8 181.4h0M1872.0 183.4h0M1875.3 181.6h0M1876.5 183.6h0M1875.0 183.0h0M1876.2 185.0h0M1879.1 184.1h0M1880.3 186.1h0M1883.3 185.2h0M1884.5 187.2h0M1887.4 186.3h0M1888.6 188.3h0M1891.5 187.3h0M1892.7 189.3h0M1895.6 188.4h0M1896.8 190.4h0M1899.8 189.5h0M1901.0 191.5h0M1903.9 190.6h0M1905.1 192.6h0M1894.0 187.0h0M1895.2 189.0h0M1898.3 188.7h0M1899.5 190.7h0M1902.7 190.3h0M1903.9 192.3h0M1907.0 192.0h0M1908.2 194.0h0M1837.7 196.7h0M1838.9 198.7h0M1841.8 196.3h0M1843.0 198.3h0M1846.0 195.9h0M1847.2 197.9h0M1850.1 195.6h0M1851.3 197.6h0M1854.2 195.2h0M1855.4 197.2h0M1858.3 194.8h0M1859.5 196.8h0M1862.5 194.4h0M1863.7 196.4h0M1866.6 194.0h0M1867.8 196.0h0M1870.7 193.7h0M1871.9 195.7h0M1874.9 193.3h0M1876.1 195.3h0M1879.0 192.9h0M1880.2 194.9h0M1879.0 193.0h0M1880.2 195.0h0M1883.1 193.1h0M1884.3 195.1h0M1887.2 193.1h0M1888.4 195.1h0M1891.3 193.2h0M1892.5 195.2h0M1895.4 193.3h0M1896.6 195.3h0M1899.5 193.4h0M1900.7 195.4h0M1903.6 193.4h0M1904.8 195.4h0M1907.7 193.5h0M1908.9 195.5h0M1858.0 202.0h0M1859.2 204.0h0M1862.4 202.0h0M1863.6 204.0h0M1866.8 202.0h0M1868.0 204.0h0M1871.2 202.0h0M1872.4 204.0h0M1875.6 202.0h0M1876.8 204.0h0M1880.0 202.0h0M1881.2 204.0h0M1856.0 208.0h0M1857.2 210.0h0M1860.4 208.0h0M1861.6 210.0h0M1864.8 208.0h0M1866.0 210.0h0M1869.2 208.0h0M1870.4 210.0h0M1873.6 208.0h0M1874.8 210.0h0M1878.0 208.0h0M1879.2 210.0h0M1856.0 213.0h0M1857.2 215.0h0M1860.2 213.5h0M1861.5 215.5h0M1864.5 214.0h0M1865.7 216.0h0M1868.8 214.5h0M1870.0 216.5h0M1873.0 215.0h0M1874.2 217.0h0M1862.0 218.0h0M1863.2 220.0h0M1866.0 218.0h0M1867.2 220.0h0M1870.0 218.0h0M1871.2 220.0h0M1879.8 216.2h0M1881.0 218.2h0M1883.9 216.8h0M1885.1 218.8h0M1888.0 217.3h0M1889.2 219.3h0M1892.1 217.9h0M1893.3 219.9h0M1896.2 218.5h0M1897.4 220.5h0M1900.3 219.0h0M1901.5 221.0h0M1904.4 219.6h0M1905.6 221.6h0M1908.5 220.2h0M1909.7 222.2h0M1912.5 220.8h0M1913.8 222.8h0M1916.6 221.3h0M1917.8 223.3h0M1920.7 221.9h0M1921.9 223.9h0M1924.8 222.5h0M1926.0 224.5h0M1928.9 223.0h0M1930.1 225.0h0M1933.0 223.6h0M1934.2 225.6h0M1937.1 224.2h0M1938.3 226.2h0M1941.2 224.7h0M1942.4 226.7h0M1945.3 225.3h0M1946.5 227.3h0M1885.0 220.0h0M1886.2 222.0h0M1889.1 220.3h0M1890.3 222.3h0M1893.2 220.5h0M1894.4 222.5h0M1897.3 220.8h0M1898.5 222.8h0M1901.4 221.1h0M1902.6 223.1h0M1905.5 221.4h0M1906.7 223.4h0M1909.5 221.6h0M1910.7 223.6h0M1913.6 221.9h0M1914.8 223.9h0M1917.7 222.2h0M1918.9 224.2h0M1921.8 222.5h0M1923.0 224.5h0M1925.9 222.7h0M1927.1 224.7h0M1930.0 223.0h0M1931.2 225.0h0M1875.3 232.8h0M1876.5 234.8h0M1879.4 232.5h0M1880.6 234.5h0M1883.5 232.1h0M1884.7 234.1h0M1887.6 231.8h0M1888.8 233.8h0M1891.7 231.5h0M1892.9 233.5h0M1895.8 231.2h0M1897.0 233.2h0M1899.9 230.8h0M1901.1 232.8h0M1904.0 230.5h0M1905.2 232.5h0M1882.8 238.5h0M1884.0 240.5h0M1887.0 238.8h0M1888.2 240.8h0M1891.2 239.1h0M1892.4 241.1h0M1895.4 239.4h0M1896.6 241.4h0M1899.6 239.6h0M1900.8 241.6h0M1903.8 239.9h0M1905.0 241.9h0M1908.0 240.2h0M1909.2 242.2h0M1912.2 240.5h0M1913.4 242.5h0M1884.0 235.0h0M1885.2 237.0h0M1887.7 235.0h0M1888.9 237.0h0M1891.3 235.0h0M1892.5 237.0h0M1895.0 235.0h0M1896.2 237.0h0M1880.0 245.0h0M1881.2 247.0h0M1883.8 245.0h0M1885.0 247.0h0M1887.5 245.0h0M1888.7 247.0h0M1891.2 245.0h0M1892.5 247.0h0M1895.0 245.0h0M1896.2 247.0h0M1815.8 253.9h0M1817.0 255.9h0M1819.9 253.6h0M1821.1 255.6h0M1824.0 253.4h0M1825.2 255.4h0M1828.1 253.1h0M1829.3 255.1h0M1832.2 252.8h0M1833.4 254.8h0M1836.3 252.6h0M1837.5 254.6h0M1840.4 252.3h0M1841.6 254.3h0M1844.5 252.0h0M1845.7 254.0h0M1848.6 251.8h0M1849.8 253.8h0M1852.7 251.5h0M1853.9 253.5h0M1856.8 251.2h0M1858.0 253.2h0M1861.0 251.0h0M1862.2 253.0h0M1865.1 250.7h0M1866.3 252.7h0M1869.2 250.5h0M1870.4 252.5h0M1873.3 250.2h0M1874.5 252.2h0M1877.4 249.9h0M1878.6 251.9h0M1881.5 249.7h0M1882.7 251.7h0M1885.6 249.4h0M1886.8 251.4h0M1889.7 249.1h0M1890.9 251.1h0M1893.8 248.9h0M1895.0 250.9h0M1897.9 248.6h0M1899.1 250.6h0M1864.0 261.8h0M1865.2 263.8h0M1868.2 261.8h0M1869.4 263.8h0M1872.4 261.8h0M1873.6 263.8h0M1876.6 261.8h0M1877.8 263.8h0M1880.8 261.8h0M1882.0 263.8h0M1885.0 261.8h0M1886.2 263.8h0M1906.7 284.6h0M1907.9 286.6h0M1910.8 284.5h0M1912.0 286.5h0M1915.0 284.3h0M1916.2 286.3h0M1919.1 284.2h0M1920.3 286.2h0M1923.3 284.0h0M1924.5 286.0h0M1927.4 283.9h0M1928.6 285.9h0M1931.6 283.7h0M1932.8 285.7h0M1935.7 283.6h0M1936.9 285.6h0M1939.8 283.5h0M1941.0 285.5h0M1944.0 283.3h0M1945.2 285.3h0M1948.1 283.2h0M1949.3 285.2h0M1952.3 283.0h0M1953.5 285.0h0M1956.4 282.9h0M1957.6 284.9h0M1960.6 282.7h0M1961.8 284.7h0M1964.7 282.6h0M1965.9 284.6h0M1968.8 282.5h0M1970.0 284.5h0M1973.0 282.3h0M1974.2 284.3h0M1977.1 282.2h0M1978.3 284.2h0M1981.3 282.0h0M1982.5 284.0h0M1985.4 281.9h0M1986.6 283.9h0M1989.6 281.7h0M1990.8 283.7h0M1993.7 281.6h0M1994.9 283.6h0M1915.0 279.5h0M1920.6 279.6h0M1926.2 279.8h0M1931.9 279.9h0M1937.5 280.0h0M1943.1 280.1h0M1948.8 280.2h0M1954.4 280.4h0M1960.0 280.5h0M1814.8 302.9h0M1816.0 304.9h0M1818.9 302.2h0M1820.1 304.2h0M1822.9 301.5h0M1824.1 303.5h0M1827.0 300.7h0M1828.2 302.7h0M1831.1 300.0h0M1832.3 302.0h0M1835.1 299.3h0M1836.3 301.3h0M1839.2 298.6h0M1840.4 300.6h0M1843.3 297.8h0M1844.5 299.8h0M1847.3 297.1h0M1848.5 299.1h0M1851.4 296.4h0M1852.6 298.4h0M1846.0 291.0h0M1847.2 293.0h0M1850.3 290.4h0M1851.5 292.4h0M1854.6 289.9h0M1855.8 291.9h0M1858.9 289.3h0M1860.1 291.3h0M1863.1 288.7h0M1864.3 290.7h0M1867.4 288.1h0M1868.6 290.1h0M1871.7 287.6h0M1872.9 289.6h0M1876.0 287.0h0M1877.2 289.0h0M1850.0 297.0h0M1851.2 299.0h0M1854.5 296.7h0M1855.7 298.7h0M1859.0 296.3h0M1860.2 298.3h0M1863.5 296.0h0M1864.7 298.0h0M1868.0 295.7h0M1869.2 297.7h0M1872.5 295.3h0M1873.7 297.3h0M1877.0 295.0h0M1878.2 297.0h0M1764.0 344.0h0M1765.2 346.0h0M1768.0 343.8h0M1769.2 345.8h0M1772.0 343.6h0M1773.2 345.6h0M1776.0 343.3h0M1777.2 345.3h0M1780.0 343.1h0M1781.2 345.1h0M1784.0 342.9h0M1785.2 344.9h0M1788.0 342.7h0M1789.2 344.7h0M1792.0 342.4h0M1793.2 344.4h0M1796.0 342.2h0M1797.2 344.2h0M1800.0 342.0h0M1801.2 344.0h0M1790.0 334.0h0M1791.2 336.0h0M1794.3 333.3h0M1795.5 335.3h0M1798.7 332.7h0M1799.9 334.7h0M1803.0 332.0h0M1804.2 334.0h0M1807.3 331.3h0M1808.5 333.3h0M1811.7 330.7h0M1812.9 332.7h0M1816.0 330.0h0M1817.2 332.0h0M1770.0 340.0h0M1771.2 342.0h0M1774.4 339.6h0M1775.6 341.6h0M1778.8 339.2h0M1780.0 341.2h0M1783.1 338.9h0M1784.3 340.9h0M1787.5 338.5h0M1788.7 340.5h0M1791.9 338.1h0M1793.1 340.1h0M1796.2 337.8h0M1797.5 339.8h0M1800.6 337.4h0M1801.8 339.4h0M1805.0 337.0h0M1806.2 339.0h0M1800.0 348.0h0M1801.2 350.0h0M1804.4 348.6h0M1805.6 350.6h0M1808.8 349.2h0M1810.0 351.2h0M1813.2 349.8h0M1814.4 351.8h0M1817.6 350.4h0M1818.8 352.4h0M1822.0 351.0h0M1823.2 353.0h0M1802.0 359.0h0M1803.2 361.0h0M1806.0 360.0h0M1807.2 362.0h0M1810.0 361.0h0M1811.2 363.0h0M1814.0 362.0h0M1815.2 364.0h0M1818.0 363.0h0M1819.2 365.0h0M1822.0 364.0h0M1823.2 366.0h0M1826.0 365.0h0M1827.2 367.0h0M1806.0 354.0h0M1807.2 356.0h0M1810.0 354.3h0M1811.2 356.3h0M1814.0 354.7h0M1815.2 356.7h0M1818.0 355.0h0M1819.2 357.0h0M1838.0 365.0h0M1839.2 367.0h0M1840.0 369.0h0M1841.2 371.0h0M1842.0 373.0h0M1843.2 375.0h0M1844.0 377.0h0M1845.2 379.0h0M1836.0 371.0h0M1837.2 373.0h0M1841.0 371.0h0M1842.2 373.0h0M1846.0 371.0h0M1847.2 373.0h0M1790.6 382.6h0M1791.8 384.6h0M1794.8 382.2h0M1796.0 384.2h0M1799.1 381.9h0M1800.3 383.9h0M1803.3 381.5h0M1804.5 383.5h0M1807.6 381.2h0M1808.8 383.2h0M1811.8 380.8h0M1813.0 382.8h0M1816.0 380.4h0M1817.2 382.4h0M1820.3 380.1h0M1821.5 382.1h0M1824.5 379.7h0M1825.7 381.7h0M1828.8 379.4h0M1830.0 381.4h0M1833.0 379.0h0M1834.2 381.0h0M1873.0 390.7h0M1874.2 392.7h0M1877.2 391.3h0M1878.4 393.3h0M1881.3 392.0h0M1882.5 394.0h0M1885.5 392.6h0M1886.7 394.6h0M1889.6 393.2h0M1890.8 395.2h0M1893.8 393.8h0M1895.0 395.8h0M1897.9 394.5h0M1899.1 396.5h0M1902.1 395.1h0M1903.3 397.1h0M1906.2 395.7h0M1907.4 397.7h0M1910.4 396.4h0M1911.6 398.4h0M1914.5 397.0h0M1915.7 399.0h0M1918.7 397.6h0M1919.9 399.6h0M1922.8 398.3h0M1924.0 400.3h0M1927.0 398.9h0M1928.2 400.9h0M1931.1 399.5h0M1932.3 401.5h0M1935.3 400.1h0M1936.5 402.1h0M1939.4 400.8h0M1940.6 402.8h0M1943.6 401.4h0M1944.8 403.4h0M1880.0 397.0h0M1885.0 397.4h0M1890.0 397.8h0M1895.0 398.2h0M1900.0 398.6h0M1905.0 399.0h0M1910.0 399.4h0M1915.0 399.8h0M1920.0 400.2h0M1925.0 400.6h0M1930.0 401.0h0M1857.0 409.0h0M1858.2 411.0h0M1861.3 408.4h0M1862.5 410.4h0M1865.6 407.9h0M1866.8 409.9h0M1869.9 407.4h0M1871.1 409.4h0M1874.2 406.8h0M1875.4 408.8h0M1878.5 406.2h0M1879.7 408.2h0M1882.8 405.7h0M1884.0 407.7h0M1887.1 405.1h0M1888.3 407.1h0M1891.4 404.6h0M1892.6 406.6h0M1895.7 404.1h0M1896.9 406.1h0M1900.0 403.5h0M1901.2 405.5h0M1880.0 405.0h0M1881.2 407.0h0M1884.0 404.8h0M1885.2 406.8h0M1888.0 404.6h0M1889.2 406.6h0M1892.0 404.4h0M1893.2 406.4h0M1896.0 404.2h0M1897.2 406.2h0M1900.0 404.0h0M1901.2 406.0h0M1904.0 403.8h0M1905.2 405.8h0M1908.0 403.6h0M1909.2 405.6h0M1912.0 403.4h0M1913.2 405.4h0M1916.0 403.2h0M1917.2 405.2h0M1920.0 403.0h0M1921.2 405.0h0M1889.0 418.5h0M1890.2 420.5h0M1893.3 418.3h0M1894.5 420.3h0M1897.6 418.2h0M1898.8 420.2h0M1901.9 418.0h0M1903.1 420.0h0M1906.1 417.8h0M1907.3 419.8h0M1910.4 417.7h0M1911.6 419.7h0M1914.7 417.5h0M1915.9 419.5h0M1919.0 417.3h0M1920.2 419.3h0M1923.3 417.1h0M1924.5 419.1h0M1927.6 417.0h0M1928.8 419.0h0M1931.8 416.8h0M1933.0 418.8h0M1936.1 416.6h0M1937.3 418.6h0M1940.4 416.5h0M1941.6 418.5h0M1944.7 416.3h0M1945.9 418.3h0M1885.0 412.0h0M1886.2 414.0h0M1890.0 412.0h0M1891.2 414.0h0M1895.0 412.0h0M1896.2 414.0h0M1852.0 422.0h0M1853.2 424.0h0M1856.7 422.0h0M1857.9 424.0h0M1861.3 422.0h0M1862.5 424.0h0M1866.0 422.0h0M1867.2 424.0h0M1814.0 431.5h0M1815.2 433.5h0M1818.2 430.9h0M1819.5 432.9h0M1822.5 430.4h0M1823.7 432.4h0M1826.8 429.8h0M1828.0 431.8h0M1831.0 429.2h0M1832.2 431.2h0M1835.2 428.7h0M1836.5 430.7h0M1839.5 428.1h0M1840.7 430.1h0M1843.8 427.6h0M1845.0 429.6h0M1848.0 427.0h0M1849.2 429.0h0M1837.7 436.7h0M1838.9 438.7h0M1841.8 436.8h0M1843.0 438.8h0M1845.8 436.9h0M1847.0 438.9h0M1849.9 437.0h0M1851.1 439.0h0M1854.0 437.1h0M1855.2 439.1h0M1858.1 437.2h0M1859.3 439.2h0M1862.1 437.3h0M1863.3 439.3h0M1866.2 437.4h0M1867.4 439.4h0M1870.3 437.5h0M1871.5 439.5h0M1874.3 437.6h0M1875.5 439.6h0M1878.4 437.7h0M1879.6 439.7h0M1813.0 447.4h0M1814.2 449.4h0M1817.4 447.2h0M1818.6 449.2h0M1821.8 446.9h0M1823.0 448.9h0M1826.2 446.7h0M1827.4 448.7h0M1830.6 446.4h0M1831.8 448.4h0M1835.1 446.2h0M1836.3 448.2h0M1839.5 445.9h0M1840.7 447.9h0M1843.9 445.7h0M1845.1 447.7h0M1848.3 445.4h0M1849.5 447.4h0M1852.7 445.2h0M1853.9 447.2h0M1846.3 449.5h0M1847.5 451.5h0M1850.4 450.0h0M1851.6 452.0h0M1854.4 450.6h0M1855.6 452.6h0M1858.5 451.1h0M1859.7 453.1h0M1862.6 451.7h0M1863.8 453.7h0M1866.7 452.2h0M1867.9 454.2h0M1870.7 452.7h0M1871.9 454.7h0M1874.8 453.3h0M1876.0 455.3h0M1878.9 453.8h0M1880.1 455.8h0M1882.9 454.4h0M1884.1 456.4h0M1887.0 454.9h0M1888.2 456.9h0M1827.0 462.3h0M1828.2 464.3h0M1831.4 462.0h0M1832.6 464.0h0M1835.8 461.8h0M1837.0 463.8h0M1840.2 461.5h0M1841.4 463.5h0M1844.7 461.2h0M1845.9 463.2h0M1849.1 461.0h0M1850.3 463.0h0M1853.5 460.7h0M1854.7 462.7h0M1857.9 460.5h0M1859.1 462.5h0M1862.3 460.2h0M1863.5 462.2h0M1828.0 462.9h0M1829.2 464.9h0M1832.2 462.4h0M1833.4 464.4h0M1836.3 461.9h0M1837.5 463.9h0M1840.5 461.4h0M1841.7 463.4h0M1844.6 460.9h0M1845.8 462.9h0M1848.8 460.4h0M1850.0 462.4h0M1852.9 459.9h0M1854.1 461.9h0M1857.1 459.4h0M1858.3 461.4h0M1861.3 459.0h0M1862.5 461.0h0M1865.4 458.5h0M1866.6 460.5h0M1869.6 458.0h0M1870.8 460.0h0M1873.7 457.5h0M1874.9 459.5h0M1877.9 457.0h0M1879.1 459.0h0M1882.0 456.5h0M1883.2 458.5h0M1886.2 456.0h0M1887.4 458.0h0M1850.0 469.0h0M1851.2 471.0h0M1854.0 469.5h0M1855.2 471.5h0M1858.0 470.0h0M1859.2 472.0h0M1862.0 470.5h0M1863.2 472.5h0M1866.0 471.0h0M1867.2 473.0h0M1870.0 471.5h0M1871.2 473.5h0M1874.0 472.0h0M1875.2 474.0h0M1878.0 472.5h0M1879.2 474.5h0M1882.0 473.0h0M1883.2 475.0h0M1870.0 481.0h0M1871.2 483.0h0M1873.8 481.0h0M1875.0 483.0h0M1877.5 481.0h0M1878.7 483.0h0M1881.2 481.0h0M1882.5 483.0h0M1885.0 481.0h0M1886.2 483.0h0M1872.0 489.0h0M1873.2 491.0h0M1876.0 489.4h0M1877.2 491.4h0M1880.0 489.8h0M1881.2 491.8h0M1884.0 490.2h0M1885.2 492.2h0M1888.0 490.6h0M1889.2 492.6h0M1892.0 491.0h0M1893.2 493.0h0M1880.0 496.0h0M1881.2 498.0h0M1884.3 496.0h0M1885.5 498.0h0M1888.7 496.0h0M1889.9 498.0h0M1893.0 496.0h0M1894.2 498.0h0M1811.0 497.5h0M1812.2 499.5h0M1815.2 498.2h0M1816.4 500.2h0M1819.4 498.9h0M1820.6 500.9h0M1823.6 499.6h0M1824.8 501.6h0M1827.8 500.2h0M1829.0 502.2h0M1832.0 500.9h0M1833.2 502.9h0M1836.2 501.6h0M1837.4 503.6h0M1840.3 502.3h0M1841.5 504.3h0M1844.5 503.0h0M1845.7 505.0h0M1848.7 503.7h0M1849.9 505.7h0M1852.9 504.3h0M1854.1 506.3h0M1857.1 505.0h0M1858.3 507.0h0M1861.3 505.7h0M1862.5 507.7h0M1865.5 506.4h0M1866.7 508.4h0M1820.0 504.0h0M1821.2 506.0h0M1824.4 504.6h0M1825.6 506.6h0M1828.8 505.2h0M1830.0 507.2h0M1833.1 505.9h0M1834.3 507.9h0M1837.5 506.5h0M1838.7 508.5h0M1841.9 507.1h0M1843.1 509.1h0M1846.2 507.8h0M1847.5 509.8h0M1850.6 508.4h0M1851.8 510.4h0M1855.0 509.0h0M1856.2 511.0h0M1818.0 513.0h0M1819.2 515.0h0M1822.4 513.0h0M1823.6 515.0h0M1826.8 513.0h0M1828.0 515.0h0M1831.2 513.0h0M1832.4 515.0h0M1835.6 513.0h0M1836.8 515.0h0M1840.0 513.0h0M1841.2 515.0h0M1815.0 521.0h0M1816.2 523.0h0M1819.2 521.3h0M1820.4 523.3h0M1823.3 521.7h0M1824.5 523.7h0M1827.5 522.0h0M1828.7 524.0h0M1831.7 522.3h0M1832.9 524.3h0M1835.8 522.7h0M1837.0 524.7h0M1840.0 523.0h0M1841.2 525.0h0M1825.0 529.0h0M1826.2 531.0h0M1829.3 529.0h0M1830.5 531.0h0M1833.7 529.0h0M1834.9 531.0h0M1838.0 529.0h0M1839.2 531.0h0M1852.6 529.1h0M1853.8 531.1h0M1856.7 529.6h0M1857.9 531.6h0M1860.8 530.1h0M1862.0 532.1h0M1864.8 530.6h0M1866.0 532.6h0M1868.9 531.1h0M1870.1 533.1h0M1873.0 531.6h0M1874.2 533.6h0M1877.1 532.1h0M1878.3 534.1h0M1881.2 532.6h0M1882.4 534.6h0M1885.2 533.0h0M1886.5 535.0h0M1889.3 533.5h0M1890.5 535.5h0M1893.4 534.0h0M1894.6 536.0h0M1897.5 534.5h0M1898.7 536.5h0M1901.6 535.0h0M1902.8 537.0h0M1905.7 535.5h0M1906.9 537.5h0M1909.7 536.0h0M1910.9 538.0h0M1913.8 536.5h0M1915.0 538.5h0M1917.9 537.0h0M1919.1 539.0h0M1829.0 542.0h0M1832.9 541.8h0M1836.8 541.7h0M1840.8 541.5h0M1844.7 541.4h0M1848.6 541.2h0M1852.5 541.1h0M1856.5 540.9h0M1860.4 540.8h0M1864.3 540.6h0M1868.2 540.5h0M1872.2 540.3h0M1876.1 540.2h0M1880.0 540.0h0M1769.6 542.0h0M1776.2 542.0h0M1782.8 542.0h0M1789.4 542.0h0M1760.0 547.0h0M1761.2 549.0h0M1764.3 546.0h0M1765.5 548.0h0M1768.6 545.0h0M1769.8 547.0h0M1772.9 544.0h0M1774.1 546.0h0M1777.1 543.0h0M1778.3 545.0h0M1781.4 542.0h0M1782.6 544.0h0M1785.7 541.0h0M1786.9 543.0h0M1790.0 540.0h0M1791.2 542.0h0M1752.0 557.0h0M1753.2 559.0h0M1755.9 556.2h0M1757.1 558.2h0M1759.8 555.5h0M1761.0 557.5h0M1763.6 554.8h0M1764.8 556.8h0M1767.5 554.0h0M1768.7 556.0h0M1771.4 553.2h0M1772.6 555.2h0M1775.2 552.5h0M1776.5 554.5h0M1779.1 551.8h0M1780.3 553.8h0M1783.0 551.0h0M1784.2 553.0h0M1765.0 552.0h0M1766.2 554.0h0M1768.8 550.8h0M1770.0 552.8h0M1772.5 549.5h0M1773.7 551.5h0M1776.2 548.2h0M1777.5 550.2h0M1780.0 547.0h0M1781.2 549.0h0M1807.0 620.0h0M1808.2 622.0h0M1811.1 619.6h0M1812.3 621.6h0M1815.3 619.2h0M1816.5 621.2h0M1819.4 618.9h0M1820.6 620.9h0M1823.6 618.5h0M1824.8 620.5h0M1827.7 618.1h0M1828.9 620.1h0M1831.9 617.7h0M1833.1 619.7h0M1836.0 617.4h0M1837.2 619.4h0M1840.1 617.0h0M1841.3 619.0h0M1844.3 616.6h0M1845.5 618.6h0M1848.4 616.2h0M1849.6 618.2h0M1852.6 615.8h0M1853.8 617.8h0M1856.7 615.5h0M1857.9 617.5h0M1860.9 615.1h0M1862.1 617.1h0M1865.0 614.7h0M1866.2 616.7h0M1830.0 615.0h0M1831.2 617.0h0M1834.0 614.8h0M1835.2 616.8h0M1838.0 614.5h0M1839.2 616.5h0M1842.0 614.2h0M1843.2 616.2h0M1846.0 614.0h0M1847.2 616.0h0M1850.0 613.8h0M1851.2 615.8h0M1854.0 613.5h0M1855.2 615.5h0M1858.0 613.2h0M1859.2 615.2h0M1862.0 613.0h0M1863.2 615.0h0M1832.0 625.0h0M1833.2 627.0h0M1836.3 625.0h0M1837.5 627.0h0M1840.7 625.0h0M1841.9 627.0h0M1845.0 625.0h0M1846.2 627.0h0M1849.3 625.0h0M1850.5 627.0h0M1853.7 625.0h0M1854.9 627.0h0M1858.0 625.0h0M1859.2 627.0h0M1832.0 631.0h0M1833.2 633.0h0M1836.0 631.1h0M1837.2 633.1h0M1840.0 631.3h0M1841.2 633.3h0M1844.0 631.4h0M1845.2 633.4h0M1848.0 631.6h0M1849.2 633.6h0M1852.0 631.7h0M1853.2 633.7h0M1856.0 631.9h0M1857.2 633.9h0M1860.0 632.0h0M1861.2 634.0h0M1822.0 636.0h0M1823.2 638.0h0M1826.2 636.5h0M1827.4 638.5h0M1830.4 637.0h0M1831.6 639.0h0M1834.6 637.5h0M1835.8 639.5h0M1838.8 638.0h0M1840.0 640.0h0M1843.0 638.5h0M1844.2 640.5h0M1847.2 639.0h0M1848.4 641.0h0M1851.4 639.5h0M1852.6 641.5h0M1855.6 640.0h0M1856.8 642.0h0M1859.8 640.5h0M1861.0 642.5h0M1864.0 641.0h0M1865.2 643.0h0M1845.0 644.0h0M1846.2 646.0h0M1848.8 644.0h0M1850.0 646.0h0M1852.6 644.0h0M1853.8 646.0h0M1856.4 644.0h0M1857.6 646.0h0M1860.2 644.0h0M1861.4 646.0h0M1864.0 644.0h0M1865.2 646.0h0M1817.0 645.4h0M1818.2 647.4h0M1820.7 646.1h0M1821.9 648.1h0M1824.4 646.8h0M1825.6 648.8h0M1828.2 647.6h0M1829.4 649.6h0M1831.9 648.3h0M1833.1 650.3h0M1835.6 649.0h0M1836.8 651.0h0M1790.0 655.5h0M1791.2 657.5h0M1794.2 654.9h0M1795.4 656.9h0M1798.4 654.3h0M1799.6 656.3h0M1802.5 653.7h0M1803.7 655.7h0M1806.7 653.1h0M1807.9 655.1h0M1810.9 652.5h0M1812.1 654.5h0M1815.1 652.0h0M1816.3 654.0h0M1819.3 651.4h0M1820.5 653.4h0M1823.5 650.8h0M1824.7 652.8h0M1827.6 650.2h0M1828.8 652.2h0M1831.8 649.6h0M1833.0 651.6h0M1836.0 649.0h0M1837.2 651.0h0M1792.0 659.0h0M1793.2 661.0h0M1796.3 659.3h0M1797.5 661.3h0M1800.7 659.7h0M1801.9 661.7h0M1805.0 660.0h0M1806.2 662.0h0M1809.3 660.3h0M1810.5 662.3h0M1813.7 660.7h0M1814.9 662.7h0M1818.0 661.0h0M1819.2 663.0h0M1800.0 664.0h0M1801.2 666.0h0M1804.5 664.0h0M1805.7 666.0h0M1809.0 664.0h0M1810.2 666.0h0M1813.5 664.0h0M1814.7 666.0h0M1818.0 664.0h0M1819.2 666.0h0M1780.0 668.2h0M1781.2 670.2h0M1784.0 668.1h0M1785.2 670.1h0M1788.0 667.9h0M1789.2 669.9h0M1792.0 667.8h0M1793.2 669.8h0M1796.0 667.6h0M1797.2 669.6h0M1800.0 667.5h0M1801.2 669.5h0M1792.0 675.0h0M1793.2 677.0h0M1796.0 675.0h0M1797.2 677.0h0M1800.0 675.0h0M1801.2 677.0h0M1804.0 675.0h0M1805.2 677.0h0M1808.0 675.0h0M1809.2 677.0h0M1812.0 675.0h0M1813.2 677.0h0M1816.0 675.0h0M1817.2 677.0h0M1792.0 681.0h0M1793.2 683.0h0M1796.3 681.2h0M1797.5 683.2h0M1800.7 681.3h0M1801.9 683.3h0M1805.0 681.5h0M1806.2 683.5h0M1809.3 681.7h0M1810.5 683.7h0M1813.7 681.8h0M1814.9 683.8h0M1818.0 682.0h0M1819.2 684.0h0M1820.0 681.0h0M1821.2 683.0h0M1824.0 681.4h0M1825.2 683.4h0M1828.0 681.7h0M1829.2 683.7h0M1832.0 682.1h0M1833.2 684.1h0M1836.0 682.4h0M1837.2 684.4h0M1840.0 682.8h0M1841.2 684.8h0M1843.9 683.2h0M1845.1 685.2h0M1847.9 683.5h0M1849.1 685.5h0M1851.9 683.9h0M1853.1 685.9h0M1855.9 684.2h0M1857.1 686.2h0M1859.9 684.6h0M1861.1 686.6h0M1813.0 692.0h0M1814.2 694.0h0M1817.5 692.0h0M1818.7 694.0h0M1822.0 692.0h0M1823.2 694.0h0M1826.5 692.0h0M1827.7 694.0h0M1831.0 692.0h0M1832.2 694.0h0M1835.5 692.0h0M1836.7 694.0h0M1840.0 692.0h0M1841.2 694.0h0M1813.0 698.0h0M1814.2 700.0h0M1817.5 698.0h0M1818.7 700.0h0M1822.0 698.0h0M1823.2 700.0h0M1826.5 698.0h0M1827.7 700.0h0M1831.0 698.0h0M1832.2 700.0h0M1835.5 698.0h0M1836.7 700.0h0M1840.0 698.0h0M1841.2 700.0h0M1778.0 700.0h0M1779.2 702.0h0M1782.4 699.6h0M1783.6 701.6h0M1786.8 699.2h0M1788.0 701.2h0M1791.2 698.8h0M1792.4 700.8h0M1795.6 698.4h0M1796.8 700.4h0M1800.0 698.0h0M1801.2 700.0h0M1806.0 703.0h0M1807.2 705.0h0M1810.0 703.0h0M1811.2 705.0h0M1814.0 703.0h0M1815.2 705.0h0M1818.0 703.0h0M1819.2 705.0h0M1822.0 703.0h0M1823.2 705.0h0M1826.0 703.0h0M1827.2 705.0h0M1830.0 703.0h0M1831.2 705.0h0M1812.0 693.0h0M1813.2 695.0h0M1816.2 692.6h0M1817.4 694.6h0M1820.4 692.3h0M1821.6 694.3h0M1824.5 691.9h0M1825.7 693.9h0M1828.7 691.5h0M1829.9 693.5h0M1832.9 691.2h0M1834.1 693.2h0M1837.1 690.8h0M1838.3 692.8h0M1841.3 690.5h0M1842.5 692.5h0M1845.5 690.1h0M1846.7 692.1h0M1849.6 689.7h0M1850.8 691.7h0M1853.8 689.4h0M1855.0 691.4h0M1858.0 689.0h0M1859.2 691.0h0M1815.0 697.0h0M1816.2 699.0h0M1819.2 697.2h0M1820.4 699.2h0M1823.3 697.3h0M1824.5 699.3h0M1827.5 697.5h0M1828.7 699.5h0M1831.7 697.7h0M1832.9 699.7h0M1835.8 697.8h0M1837.0 699.8h0M1840.0 698.0h0M1841.2 700.0h0M1842.0 703.5h0M1843.2 705.5h0M1846.2 703.9h0M1847.4 705.9h0M1850.4 704.2h0M1851.6 706.2h0M1854.5 704.6h0M1855.7 706.6h0M1858.7 705.0h0M1859.9 707.0h0M1862.9 705.3h0M1864.1 707.3h0M1867.1 705.7h0M1868.3 707.7h0M1871.3 706.0h0M1872.5 708.0h0M1875.5 706.4h0M1876.7 708.4h0M1879.6 706.8h0M1880.8 708.8h0M1883.8 707.1h0M1885.0 709.1h0M1888.0 707.5h0M1889.2 709.5h0M1840.0 711.0h0M1841.2 713.0h0M1844.0 711.0h0M1845.2 713.0h0M1848.0 711.0h0M1849.2 713.0h0M1852.0 711.0h0M1853.2 713.0h0M1856.0 711.0h0M1857.2 713.0h0M1860.0 711.0h0M1861.2 713.0h0M1864.0 711.0h0M1865.2 713.0h0M1868.0 711.0h0M1869.2 713.0h0M1872.0 711.0h0M1873.2 713.0h0M1876.0 711.0h0M1877.2 713.0h0M1880.0 711.0h0M1881.2 713.0h0M1815.0 713.0h0M1816.2 715.0h0M1819.3 713.7h0M1820.5 715.7h0M1823.7 714.3h0M1824.9 716.3h0M1828.0 715.0h0M1829.2 717.0h0M1831.3 716.1h0M1832.5 718.1h0M1835.5 716.6h0M1836.7 718.6h0M1839.7 717.0h0M1840.9 719.0h0M1844.0 717.5h0M1845.2 719.5h0M1848.2 717.9h0M1849.4 719.9h0M1852.4 718.4h0M1853.6 720.4h0M1856.6 718.8h0M1857.8 720.8h0M1860.8 719.3h0M1862.0 721.3h0M1865.0 719.7h0M1866.2 721.7h0M1869.3 720.2h0M1870.5 722.2h0M1873.5 720.6h0M1874.7 722.6h0M1877.7 721.1h0M1878.9 723.1h0M1838.0 726.0h0M1839.2 728.0h0M1842.4 726.0h0M1843.6 728.0h0M1846.8 726.0h0M1848.0 728.0h0M1851.2 726.0h0M1852.4 728.0h0M1855.6 726.0h0M1856.8 728.0h0M1860.0 726.0h0M1861.2 728.0h0M1794.0 737.0h0M1795.2 739.0h0M1798.1 736.0h0M1799.3 738.0h0M1802.2 735.0h0M1803.4 737.0h0M1806.3 734.0h0M1807.5 736.0h0M1810.4 733.0h0M1811.6 735.0h0M1814.6 732.0h0M1815.8 734.0h0M1818.7 731.0h0M1819.9 733.0h0M1822.8 730.0h0M1824.0 732.0h0M1826.9 729.0h0M1828.1 731.0h0M1831.0 728.0h0M1832.2 730.0h0M1818.0 741.0h0M1819.2 743.0h0M1822.2 741.0h0M1823.4 743.0h0M1826.3 741.0h0M1827.5 743.0h0M1830.5 741.0h0M1831.7 743.0h0M1834.7 741.0h0M1835.9 743.0h0M1838.8 741.0h0M1840.0 743.0h0M1843.0 741.0h0M1844.2 743.0h0M1826.0 752.0h0M1827.2 754.0h0M1830.2 752.2h0M1831.4 754.2h0M1834.4 752.4h0M1835.6 754.4h0M1838.7 752.7h0M1839.9 754.7h0M1842.9 752.9h0M1844.1 754.9h0M1847.1 753.1h0M1848.3 755.1h0M1851.3 753.3h0M1852.5 755.3h0M1855.6 753.6h0M1856.8 755.6h0M1859.8 753.8h0M1861.0 755.8h0M1864.0 754.0h0M1865.2 756.0h0M1840.0 761.0h0M1841.2 763.0h0M1844.3 761.0h0M1845.5 763.0h0M1848.7 761.0h0M1849.9 763.0h0M1853.0 761.0h0M1854.2 763.0h0M1866.0 767.0h0M1867.2 769.0h0M1870.2 766.2h0M1871.5 768.2h0M1874.5 765.5h0M1875.7 767.5h0M1878.8 764.8h0M1880.0 766.8h0M1883.0 764.0h0M1884.2 766.0h0M1847.0 771.0h0M1848.2 773.0h0M1850.8 772.6h0M1852.0 774.6h0M1854.6 774.2h0M1855.8 776.2h0M1858.4 775.8h0M1859.6 777.8h0M1862.2 777.4h0M1863.4 779.4h0M1866.0 779.0h0M1867.2 781.0h0M1870.0 783.0h0M1871.2 785.0h0M1874.2 783.0h0M1875.4 785.0h0M1878.4 783.0h0M1879.6 785.0h0M1882.6 783.0h0M1883.8 785.0h0M1886.8 783.0h0M1888.0 785.0h0M1891.0 783.0h0M1892.2 785.0h0M1895.2 783.0h0M1896.4 785.0h0M1899.4 783.0h0M1900.6 785.0h0M1903.6 783.0h0M1904.8 785.0h0M1907.8 783.0h0M1909.0 785.0h0M1912.0 783.0h0M1913.2 785.0h0M1846.0 773.0h0M1847.2 775.0h0M1850.0 773.7h0M1851.2 775.7h0M1854.0 774.3h0M1855.2 776.3h0M1858.0 775.0h0M1859.2 777.0h0M1862.0 775.7h0M1863.2 777.7h0M1866.0 776.3h0M1867.2 778.3h0M1870.0 777.0h0M1871.2 779.0h0M1850.0 769.0h0M1851.2 771.0h0M1854.3 769.0h0M1855.5 771.0h0M1858.6 769.0h0M1859.8 771.0h0M1862.9 769.0h0M1864.1 771.0h0M1867.1 769.0h0M1868.3 771.0h0M1871.4 769.0h0M1872.6 771.0h0M1875.7 769.0h0M1876.9 771.0h0M1880.0 769.0h0M1881.2 771.0h0M1872.0 781.0h0M1873.2 783.0h0M1876.2 781.3h0M1877.4 783.3h0M1880.4 781.6h0M1881.6 783.6h0M1884.6 781.9h0M1885.8 783.9h0M1888.8 782.2h0M1890.0 784.2h0M1893.0 782.5h0M1894.2 784.5h0M1897.2 782.8h0M1898.4 784.8h0M1901.4 783.1h0M1902.6 785.1h0M1905.6 783.4h0M1906.8 785.4h0M1909.8 783.7h0M1911.0 785.7h0M1914.0 784.0h0M1915.2 786.0h0M1872.0 787.0h0M1873.2 789.0h0M1876.0 787.3h0M1877.2 789.3h0M1880.0 787.6h0M1881.2 789.6h0M1884.0 787.9h0M1885.2 789.9h0M1888.0 788.1h0M1889.2 790.1h0M1892.0 788.4h0M1893.2 790.4h0M1896.0 788.7h0M1897.2 790.7h0M1900.0 789.0h0M1901.2 791.0h0M1811.0 799.0h0M1812.2 801.0h0M1815.3 798.5h0M1816.5 800.5h0M1819.5 798.1h0M1820.7 800.1h0M1823.8 797.6h0M1825.0 799.6h0M1828.1 797.1h0M1829.3 799.1h0M1832.3 796.7h0M1833.5 798.7h0M1836.6 796.2h0M1837.8 798.2h0M1840.9 795.7h0M1842.1 797.7h0M1845.1 795.3h0M1846.3 797.3h0M1849.4 794.8h0M1850.6 796.8h0M1853.7 794.3h0M1854.9 796.3h0M1857.9 793.9h0M1859.1 795.9h0M1862.2 793.4h0M1863.4 795.4h0M1866.5 792.9h0M1867.7 794.9h0M1870.7 792.5h0M1871.9 794.5h0M1875.0 792.0h0M1876.2 794.0h0M1850.0 794.0h0M1851.2 796.0h0M1854.0 793.3h0M1855.2 795.3h0M1858.0 792.6h0M1859.2 794.6h0M1862.0 791.9h0M1863.2 793.9h0M1866.0 791.2h0M1867.2 793.2h0M1870.0 790.5h0M1871.2 792.5h0M1874.0 789.8h0M1875.2 791.8h0M1878.0 789.1h0M1879.2 791.1h0M1882.0 788.4h0M1883.2 790.4h0M1886.0 787.7h0M1887.2 789.7h0M1890.0 787.0h0M1891.2 789.0h0M1918.5 804.0h0M1919.7 806.0h0M1922.6 804.2h0M1923.8 806.2h0M1926.8 804.3h0M1928.0 806.3h0M1930.9 804.5h0M1932.1 806.5h0M1935.0 804.6h0M1936.2 806.6h0M1939.2 804.8h0M1940.4 806.8h0M1943.3 804.9h0M1944.5 806.9h0M1947.5 805.1h0M1948.7 807.1h0M1951.6 805.2h0M1952.8 807.2h0M1955.7 805.4h0M1956.9 807.4h0M1959.9 805.6h0M1961.1 807.6h0M1964.0 805.7h0M1965.2 807.7h0M1968.2 805.9h0M1969.4 807.9h0M1972.3 806.0h0M1973.5 808.0h0M1976.4 806.2h0M1977.6 808.2h0M1980.6 806.3h0M1981.8 808.3h0M1984.7 806.5h0M1985.9 808.5h0M1932.0 814.0h0M1933.2 816.0h0M1936.1 813.8h0M1937.3 815.8h0M1940.2 813.5h0M1941.4 815.5h0M1944.2 813.3h0M1945.4 815.3h0M1948.3 813.1h0M1949.5 815.1h0M1952.4 812.8h0M1953.6 814.8h0M1956.5 812.6h0M1957.7 814.6h0M1960.5 812.4h0M1961.7 814.4h0M1964.6 812.2h0M1965.8 814.2h0M1968.7 811.9h0M1969.9 813.9h0M1972.8 811.7h0M1974.0 813.7h0M1976.8 811.5h0M1978.0 813.5h0M1980.9 811.2h0M1982.1 813.2h0M1985.0 811.0h0M1986.2 813.0h0M1814.7 842.1h0M1815.9 844.1h0M1818.9 841.8h0M1820.1 843.8h0M1823.1 841.5h0M1824.3 843.5h0M1827.3 841.1h0M1828.5 843.1h0M1831.5 840.8h0M1832.7 842.8h0M1835.7 840.5h0M1836.9 842.5h0M1839.9 840.2h0M1841.1 842.2h0M1844.1 839.8h0M1845.3 841.8h0M1848.3 839.5h0M1849.5 841.5h0M1852.5 839.2h0M1853.7 841.2h0M1856.7 838.9h0M1857.9 840.9h0M1860.9 838.5h0M1862.1 840.5h0M1865.1 838.2h0M1866.3 840.2h0M1870.0 842.0h0M1875.0 841.3h0M1880.0 840.6h0M1885.0 839.9h0M1890.0 839.1h0M1895.0 838.4h0M1900.0 837.7h0M1905.0 837.0h0M1771.0 854.0h0M1772.2 856.0h0M1775.3 853.7h0M1776.5 855.7h0M1779.6 853.3h0M1780.8 855.3h0M1783.8 853.0h0M1785.0 855.0h0M1788.1 852.7h0M1789.3 854.7h0M1792.4 852.3h0M1793.6 854.3h0M1796.7 852.0h0M1797.9 854.0h0M1800.9 851.7h0M1802.1 853.7h0M1805.2 851.3h0M1806.4 853.3h0M1809.5 851.0h0M1810.7 853.0h0M1813.8 850.7h0M1815.0 852.7h0M1818.1 850.3h0M1819.3 852.3h0M1822.3 850.0h0M1823.5 852.0h0M1826.6 849.7h0M1827.8 851.7h0M1830.9 849.3h0M1832.1 851.3h0M1835.2 849.0h0M1836.4 851.0h0M1839.4 848.7h0M1840.6 850.7h0M1843.7 848.3h0M1844.9 850.3h0M1848.0 848.0h0M1849.2 850.0h0M1785.0 861.0h0M1786.2 863.0h0M1789.1 861.2h0M1790.3 863.2h0M1793.2 861.3h0M1794.4 863.3h0M1797.2 861.5h0M1798.4 863.5h0M1801.3 861.6h0M1802.5 863.6h0M1805.4 861.8h0M1806.6 863.8h0M1809.5 861.9h0M1810.7 863.9h0M1813.5 862.1h0M1814.7 864.1h0M1817.6 862.2h0M1818.8 864.2h0M1821.7 862.4h0M1822.9 864.4h0M1825.8 862.5h0M1827.0 864.5h0M1829.8 862.7h0M1831.0 864.7h0M1833.9 862.8h0M1835.1 864.8h0M1838.0 863.0h0M1839.2 865.0h0M1800.0 857.0h0M1801.2 859.0h0M1804.3 857.0h0M1805.5 859.0h0M1808.6 857.0h0M1809.8 859.0h0M1812.9 857.0h0M1814.1 859.0h0M1817.1 857.0h0M1818.3 859.0h0M1821.4 857.0h0M1822.6 859.0h0M1825.7 857.0h0M1826.9 859.0h0M1830.0 857.0h0M1831.2 859.0h0M1738.0 869.0h0M1739.2 871.0h0M1742.0 869.3h0M1743.2 871.3h0M1746.0 869.6h0M1747.2 871.6h0M1750.0 869.9h0M1751.2 871.9h0M1754.0 870.1h0M1755.2 872.1h0M1758.0 870.4h0M1759.2 872.4h0M1762.0 870.7h0M1763.2 872.7h0M1766.0 871.0h0M1767.2 873.0h0M1833.6 874.5h0M1834.8 876.5h0M1837.6 874.5h0M1838.8 876.5h0M1841.5 874.5h0M1842.7 876.5h0M1845.5 874.5h0M1846.7 876.5h0M1858.0 874.5h0M1859.2 876.5h0M1862.2 874.7h0M1863.4 876.7h0M1866.5 875.0h0M1867.7 877.0h0M1870.7 875.2h0M1871.9 877.2h0M1874.9 875.4h0M1876.1 877.4h0M1879.2 875.7h0M1880.4 877.7h0M1883.4 875.9h0M1884.6 877.9h0M1887.6 876.1h0M1888.8 878.1h0M1891.8 876.3h0M1893.0 878.3h0M1896.1 876.6h0M1897.3 878.6h0M1900.3 876.8h0M1901.5 878.8h0M1904.5 877.0h0M1905.7 879.0h0M1908.8 877.3h0M1910.0 879.3h0M1913.0 877.5h0M1914.2 879.5h0M1862.0 880.0h0M1863.2 882.0h0M1866.2 880.0h0M1867.5 882.0h0M1870.5 880.0h0M1871.7 882.0h0M1874.8 880.0h0M1876.0 882.0h0M1879.0 880.0h0M1880.2 882.0h0M1883.2 880.0h0M1884.5 882.0h0M1887.5 880.0h0M1888.7 882.0h0M1891.8 880.0h0M1893.0 882.0h0M1896.0 880.0h0M1897.2 882.0h0M1793.0 901.0h0M1794.2 903.0h0M1797.1 900.4h0M1798.3 902.4h0M1801.2 899.8h0M1802.4 901.8h0M1805.4 899.2h0M1806.6 901.2h0M1809.5 898.6h0M1810.7 900.6h0M1813.6 898.1h0M1814.8 900.1h0M1817.7 897.5h0M1818.9 899.5h0M1821.8 896.9h0M1823.0 898.9h0M1825.9 896.3h0M1827.1 898.3h0M1830.1 895.7h0M1831.3 897.7h0M1834.2 895.1h0M1835.4 897.1h0M1838.3 894.5h0M1839.5 896.5h0M1842.4 893.9h0M1843.6 895.9h0M1846.5 893.4h0M1847.7 895.4h0M1850.6 892.8h0M1851.8 894.8h0M1854.8 892.2h0M1856.0 894.2h0M1858.9 891.6h0M1860.1 893.6h0M1863.0 891.0h0M1864.2 893.0h0M1800.0 897.0h0M1801.2 899.0h0M1804.2 896.3h0M1805.4 898.3h0M1808.3 895.7h0M1809.5 897.7h0M1812.5 895.0h0M1813.7 897.0h0M1816.7 894.3h0M1817.9 896.3h0M1820.8 893.7h0M1822.0 895.7h0M1825.0 893.0h0M1826.2 895.0h0M1829.2 892.3h0M1830.4 894.3h0M1833.3 891.7h0M1834.5 893.7h0M1837.5 891.0h0M1838.7 893.0h0M1841.7 890.3h0M1842.9 892.3h0M1845.8 889.7h0M1847.0 891.7h0M1850.0 889.0h0M1851.2 891.0h0M1819.0 914.0h0M1823.1 913.8h0M1827.2 913.5h0M1831.2 913.3h0M1835.3 913.1h0M1839.4 912.8h0M1843.5 912.6h0M1847.5 912.4h0M1851.6 912.2h0M1855.7 911.9h0M1859.8 911.7h0M1863.8 911.5h0M1867.9 911.2h0M1872.0 911.0h0M1830.0 906.0h0M1834.0 905.9h0M1838.0 905.7h0M1842.0 905.6h0M1846.0 905.4h0M1850.0 905.3h0M1854.0 905.1h0M1858.0 905.0h0M1762.0 918.0h0M1766.3 917.8h0M1770.6 917.7h0M1774.9 917.5h0M1779.2 917.4h0M1783.5 917.2h0M1787.8 917.1h0M1792.2 916.9h0M1796.5 916.8h0M1800.8 916.6h0M1805.1 916.5h0M1809.4 916.3h0M1813.7 916.2h0M1818.0 916.0h0M1762.0 925.0h0M1766.1 924.9h0M1770.2 924.8h0M1774.2 924.8h0M1778.3 924.7h0M1782.4 924.6h0M1786.5 924.5h0M1790.5 924.5h0M1794.6 924.4h0M1798.7 924.3h0M1802.8 924.2h0M1806.8 924.2h0M1810.9 924.1h0M1815.0 924.0h0M1760.0 935.0h0M1764.0 934.6h0M1768.0 934.2h0M1772.0 933.9h0M1776.0 933.5h0M1780.0 933.1h0M1784.0 932.8h0M1788.0 932.4h0M1792.0 932.0h0M1725.0 944.0h0M1729.2 943.7h0M1733.3 943.3h0M1737.5 943.0h0M1741.7 942.7h0M1745.8 942.3h0M1750.0 942.0h0M1754.2 941.7h0M1758.3 941.3h0M1762.5 941.0h0M1766.7 940.7h0M1770.8 940.3h0M1775.0 940.0h0M1720.0 942.0h0M1724.0 941.6h0M1728.0 941.2h0M1732.0 940.8h0M1736.0 940.4h0M1740.0 940.0h0M1744.0 939.6h0M1748.0 939.2h0M1752.0 938.8h0M1756.0 938.4h0M1760.0 938.0h0M1758.0 928.0h0M1762.2 927.7h0M1766.4 927.4h0M1770.6 927.1h0M1774.8 926.8h0M1779.0 926.5h0M1783.2 926.2h0M1787.4 925.9h0M1791.6 925.6h0M1795.8 925.3h0M1800.0 925.0h0M1760.0 935.0h0M1764.4 934.4h0M1768.8 933.8h0M1773.1 933.1h0M1777.5 932.5h0M1781.9 931.9h0M1786.2 931.2h0M1790.6 930.6h0M1795.0 930.0h0M1676.0 941.8h0M1680.4 941.8h0M1684.9 941.8h0M1689.3 941.8h0M1693.7 941.8h0M1698.2 941.8h0M1702.6 941.8h0M1744.2 939.8h0M1748.9 939.3h0M1753.6 938.8h0M1758.2 938.3h0M1762.9 937.8h0M1641.4 949.7h0M1645.7 949.4h0M1650.0 949.2h0M1654.3 948.9h0M1658.6 948.6h0M1662.9 948.3h0M1667.3 948.1h0M1671.6 947.8h0M1675.9 947.5h0M1680.2 947.2h0M1684.5 947.0h0M1688.8 946.7h0M1674.0 952.7h0M1678.2 953.0h0M1682.3 953.4h0M1686.5 953.7h0M1690.6 954.0h0M1694.8 954.3h0M1699.0 954.7h0M1703.1 955.0h0M1707.3 955.3h0M1711.4 955.7h0M1715.6 956.0h0M1719.7 956.3h0M1723.9 956.7h0M1728.1 957.0h0M1732.2 957.3h0M1736.4 957.6h0M1740.5 958.0h0M1744.7 958.3h0M1748.8 958.6h0M1753.0 959.0h0M1757.2 959.3h0M1761.3 959.6h0M1765.5 959.9h0M1769.6 960.3h0M1773.8 960.6h0M1735.0 968.0h0M1739.0 967.6h0M1743.0 967.2h0M1747.0 966.8h0M1751.0 966.4h0M1755.0 966.0h0M1730.0 975.0h0M1734.0 974.6h0M1738.0 974.2h0M1742.0 973.8h0M1746.0 973.4h0M1750.0 973.0h0M1602.0 980.0h0M1606.1 979.7h0M1610.2 979.3h0M1614.3 979.0h0M1618.4 978.7h0M1622.6 978.3h0M1626.7 978.0h0M1630.8 977.7h0M1634.9 977.3h0M1639.0 977.0h0M1643.1 976.7h0M1647.2 976.3h0M1651.3 976.0h0M1655.4 975.7h0M1659.6 975.3h0M1663.7 975.0h0M1667.8 974.7h0M1671.9 974.3h0M1676.0 974.0h0M1605.0 982.0h0M1609.0 982.3h0M1613.0 982.6h0M1617.0 982.9h0M1621.0 983.2h0M1625.0 983.5h0M1629.0 983.8h0M1633.0 984.1h0M1637.0 984.4h0M1641.0 984.7h0M1645.0 985.0h0M1708.6 974.4h0M1712.9 974.4h0M1717.1 974.4h0M1721.4 974.4h0M1680.0 990.0h0M1684.0 989.8h0M1688.0 989.6h0M1692.0 989.4h0M1696.0 989.2h0M1700.0 989.0h0M1704.0 988.8h0M1708.0 988.6h0M1712.0 988.4h0M1716.0 988.2h0M1720.0 988.0h0M1685.0 996.0h0M1689.2 996.0h0M1693.3 996.0h0M1697.5 996.0h0M1701.7 996.0h0M1705.8 996.0h0M1710.0 996.0h0M1741.2 995.2h0M1744.8 995.2h0M1748.4 995.2h0M1752.0 995.2h0M1715.0 1000.0h0M1719.4 1000.0h0M1723.8 1000.0h0M1728.1 1000.0h0M1732.5 1000.0h0M1736.9 1000.0h0M1741.2 1000.0h0M1745.6 1000.0h0M1750.0 1000.0h0M1715.1 1010.8h0M1719.2 1010.2h0M1723.4 1009.6h0M1727.5 1009.0h0M1731.7 1008.4h0M1735.8 1007.8h0M1740.0 1007.3h0M1744.1 1006.7h0M1748.3 1006.1h0M1752.4 1005.5h0M1756.6 1004.9h0M1738.8 1008.0h0M1743.1 1010.0h0M1747.4 1012.0h0M1751.7 1014.0h0M1748.7 1014.8h0M1752.8 1015.3h0M1756.9 1015.7h0M1761.0 1016.2h0M1765.1 1016.6h0M1769.2 1017.1h0M1773.3 1017.5h0M1777.4 1018.0h0M1781.5 1018.4h0M1785.6 1018.9h0M1789.7 1019.3h0M1793.8 1019.8h0M1797.9 1020.2h0M1802.0 1020.7h0M1750.0 1011.0h0M1754.2 1011.4h0M1758.4 1011.9h0M1762.7 1012.3h0M1766.9 1012.8h0M1771.1 1013.2h0M1775.3 1013.7h0M1779.6 1014.1h0M1783.8 1014.6h0M1788.0 1015.0h0M1808.0 1020.7h0M1811.8 1021.8h0M1815.7 1022.9h0M1819.5 1024.0h0M1823.3 1025.2h0M1827.1 1026.3h0M1830.9 1027.4h0M1834.8 1028.5h0M1838.6 1029.6h0M1698.0 1046.5h0M1702.4 1045.2h0M1706.8 1043.9h0M1711.2 1042.6h0M1715.6 1041.3h0M1720.0 1040.0h0M1720.0 1042.0h0M1724.1 1041.3h0M1728.2 1040.6h0M1732.4 1039.9h0M1736.5 1039.2h0M1740.6 1038.6h0M1744.8 1037.9h0M1748.9 1037.2h0M1753.0 1036.5h0M1757.1 1035.8h0M1761.2 1035.1h0M1765.4 1034.4h0M1769.5 1033.8h0M1773.6 1033.1h0M1777.8 1032.4h0M1781.9 1031.7h0M1786.0 1031.0h0M1696.0 1060.0h0M1700.3 1060.8h0M1704.7 1061.7h0M1709.0 1062.5h0M1713.3 1063.3h0M1717.7 1064.2h0M1722.0 1065.0h0M1706.0 1074.0h0M1710.5 1074.0h0M1715.0 1074.0h0M1719.5 1074.0h0M1724.0 1074.0h0M1712.0 1082.0h0M1716.0 1081.3h0M1720.0 1080.7h0M1724.0 1080.0h0M1712.0 1090.0h0M1708.0 1092.5h0M1704.0 1095.0h0M1700.0 1097.5h0M1696.0 1100.0h0M1695.0 1099.0h0M1698.4 1100.8h0M1701.8 1102.6h0M1705.2 1104.4h0M1708.6 1106.2h0M1712.0 1108.0h0M1712.0 1110.0h0M1715.6 1111.5h0M1719.2 1113.0h0M1722.8 1114.5h0M1726.4 1116.0h0M1730.0 1117.5h0M1749.2 1118.7h0M1753.4 1118.8h0M1757.7 1119.0h0M1761.9 1119.1h0M1766.1 1119.3h0M1770.3 1119.4h0M1774.6 1119.6h0M1778.8 1119.7h0M1788.7 1119.7h0M1792.7 1119.7h0M1796.6 1119.7h0M1800.6 1119.7h0M1804.5 1119.7h0M1808.5 1119.7h0M1832.2 1121.7h0M1836.3 1122.3h0M1840.4 1122.9h0M1844.5 1123.5h0M1848.6 1124.1h0M1852.7 1124.7h0M1856.8 1125.3h0M1860.9 1126.0h0M1865.0 1126.6h0M1869.1 1127.2h0M1873.2 1127.8h0M1877.3 1128.4h0M1881.4 1129.0h0M1885.5 1129.6h0M1727.4 1134.5h0M1731.4 1134.6h0M1735.3 1134.7h0M1739.3 1134.8h0M1743.2 1134.9h0M1747.2 1135.1h0M1751.1 1135.2h0M1755.1 1135.3h0M1759.0 1135.4h0M1763.0 1135.5h0M1767.0 1135.6h0M1770.9 1135.7h0M1774.9 1135.8h0M1778.8 1135.9h0M1782.8 1136.1h0M1786.7 1136.2h0M1790.7 1136.3h0M1794.6 1136.4h0M1798.6 1136.5h0M1803.5 1131.0h0M1807.6 1131.7h0M1811.6 1132.3h0M1815.7 1133.0h0M1819.7 1133.7h0M1823.8 1134.3h0M1827.8 1135.0h0M1831.9 1135.7h0M1835.9 1136.3h0M1840.0 1137.0h0M1815.0 1145.0h0M1819.4 1145.0h0M1823.8 1145.0h0M1828.1 1145.0h0M1832.5 1145.0h0M1836.9 1145.0h0M1841.2 1145.0h0M1845.6 1145.0h0M1850.0 1145.0h0M1810.0 1152.0h0M1814.3 1152.0h0M1818.6 1152.0h0M1822.9 1152.0h0M1827.1 1152.0h0M1831.4 1152.0h0M1835.7 1152.0h0M1840.0 1152.0h0M1784.7 1156.3h0M1788.9 1156.1h0M1793.0 1156.0h0M1797.2 1155.8h0M1801.3 1155.7h0M1805.5 1155.5h0M1809.6 1155.4h0M1813.8 1155.2h0M1817.9 1155.1h0M1822.0 1155.0h0M1826.2 1154.8h0M1830.4 1154.6h0M1834.5 1154.5h0M1838.7 1154.3h0M1842.8 1154.2h0M1847.0 1154.0h0M1851.1 1153.9h0M1855.2 1153.8h0M1859.4 1153.6h0M1863.5 1153.5h0M1867.7 1153.3h0M1741.3 1163.2h0M1745.2 1162.3h0M1749.2 1161.4h0M1753.1 1160.6h0M1757.1 1159.7h0M1761.0 1158.8h0M1765.0 1157.9h0M1768.9 1157.1h0M1772.9 1156.2h0M1776.8 1155.3h0M1744.0 1166.0h0M1748.1 1166.6h0M1752.2 1167.3h0M1756.4 1167.9h0M1760.5 1168.6h0M1764.6 1169.2h0M1768.7 1169.9h0M1772.8 1170.5h0M1776.9 1171.2h0M1781.1 1171.8h0M1785.2 1172.5h0M1789.3 1173.1h0M1793.4 1173.8h0M1797.5 1174.4h0M1801.6 1175.1h0M1805.8 1175.7h0M1809.9 1176.4h0M1814.0 1177.0h0M1770.9 1188.9h0M1774.8 1187.8h0M1778.6 1186.7h0M1782.5 1185.7h0M1786.4 1184.6h0M1790.2 1183.5h0M1794.1 1182.4h0M1797.9 1181.3h0M1801.8 1180.2h0M1805.7 1179.2h0M1809.5 1178.1h0M1813.4 1177.0h0M1718.5 1193.8h0M1722.6 1193.4h0M1726.8 1192.9h0M1730.9 1192.5h0M1735.0 1192.0h0M1739.2 1191.6h0M1743.3 1191.1h0M1747.5 1190.7h0M1751.6 1190.2h0M1755.7 1189.8h0M1759.9 1189.3h0M1764.0 1188.9h0M1721.0 1195.0h0M1724.9 1196.0h0M1728.9 1197.1h0M1732.8 1198.1h0M1736.8 1199.1h0M1740.7 1200.2h0M1744.6 1201.2h0M1748.6 1202.2h0M1752.5 1203.2h0M1756.4 1204.3h0M1760.4 1205.3h0M1764.3 1206.3h0M1768.2 1207.4h0M1772.2 1208.4h0M1776.1 1209.4h0M1780.1 1210.5h0M1784.0 1211.5h0M1792.1 1210.8h0M1796.4 1211.0h0M1800.7 1211.1h0M1805.0 1211.3h0M1809.3 1211.5h0M1813.6 1211.7h0M1817.9 1211.8h0M1822.2 1212.0h0M1826.5 1212.2h0M1830.9 1212.3h0M1835.2 1212.5h0M1839.5 1212.7h0M1843.8 1212.8h0M1848.1 1213.0h0M1852.4 1213.2h0M1856.7 1213.4h0M1861.0 1213.5h0M1865.3 1213.7h0M1797.0 1220.0h0M1801.3 1220.2h0M1805.7 1220.4h0M1810.0 1220.7h0M1814.3 1220.9h0M1818.7 1221.1h0M1823.0 1221.3h0M1827.3 1221.6h0M1831.7 1221.8h0M1836.0 1222.0h0M1797.0 1228.0h0M1801.0 1228.0h0M1805.0 1228.0h0M1809.0 1228.0h0M1813.0 1228.0h0M1817.0 1228.0h0M1821.0 1228.0h0M1825.0 1228.0h0M1797.0 1232.0h0M1801.2 1232.4h0M1805.3 1232.8h0M1809.5 1233.2h0M1813.6 1233.5h0M1817.8 1233.9h0M1821.9 1234.3h0M1826.1 1234.7h0M1830.2 1235.1h0M1834.4 1235.5h0M1838.5 1235.8h0M1842.7 1236.2h0M1846.8 1236.6h0M1851.0 1237.0h0M1855.2 1237.4h0M1859.3 1237.8h0M1863.5 1238.2h0M1867.6 1238.5h0M1871.8 1238.9h0M1875.9 1239.3h0M1880.1 1239.7h0M1884.2 1240.1h0M1888.4 1240.5h0M1892.5 1240.8h0M1896.7 1241.2h0M1900.8 1241.6h0M1905.0 1242.0h0M1820.0 1238.0h0M1824.2 1238.4h0M1828.4 1238.7h0M1832.6 1239.1h0M1836.8 1239.5h0M1841.1 1239.8h0M1845.3 1240.2h0M1849.5 1240.6h0M1853.7 1240.9h0M1857.9 1241.3h0M1862.1 1241.7h0M1866.3 1242.1h0M1870.5 1242.4h0M1874.7 1242.8h0M1878.9 1243.2h0M1883.2 1243.5h0M1887.4 1243.9h0M1891.6 1244.3h0M1895.8 1244.6h0M1900.0 1245.0h0M1939.5 1243.7h0M1943.5 1244.0h0M1947.6 1244.2h0M1951.6 1244.5h0M1955.7 1244.8h0M1959.7 1245.0h0M1963.8 1245.3h0M1967.8 1245.5h0M1971.9 1245.8h0M1975.9 1246.1h0M1980.0 1246.3h0M1984.0 1246.6h0M1950.0 1248.0h0M1954.0 1248.2h0M1958.0 1248.4h0M1962.0 1248.6h0M1966.0 1248.8h0M1970.0 1249.0h0M1974.0 1249.2h0M1978.0 1249.4h0M1982.0 1249.6h0M1986.0 1249.8h0M1990.0 1250.0h0M1984.0 1248.0h0M1988.1 1248.6h0M1992.2 1249.2h0M1996.3 1249.8h0M2000.5 1250.4h0M2004.6 1251.0h0M2008.7 1251.6h0M1727.6 158.3h0M1748.7 158.3h0M1769.8 158.3h0M1714.8 166.3h0M1736.7 166.3h0M1757.8 166.3h0M1808.2 167.0h0M1817.3 167.0h0M1835.0 168.4h0M1856.9 168.5h0M1871.2 168.5h0M1884.0 168.5h0M1875.0 277.7h0M1882.0 276.0h0M1895.0 277.7h0M1889.0 288.0h0M1898.8 288.0h0M1843.0 390.6h0M1857.0 391.7h0M1865.5 392.2h0M1876.4 504.4h0M1887.2 505.4h0M1805.2 543.0h0M1816.0 542.0h0M1819.0 542.0h0M1822.8 615.0h0M1837.7 614.3h0M1858.4 613.6h0M1836.0 803.6h0M1850.3 803.6h0M1870.5 803.1h0M1885.4 802.6h0M1896.7 803.6h0M1906.6 804.6h0M1912.5 836.2h0M1921.4 837.2h0M1773.4 867.6h0M1788.2 873.5h0M1798.0 874.5h0M1811.9 874.5h0M1822.8 875.5h0M1712.5 941.8h0M1720.4 941.8h0M1730.3 941.3h0M1739.2 940.8h0M1684.9 975.4h0M1692.8 974.9h0M1699.7 974.4h0M1649.3 985.3h0M1663.1 985.3h0M1674.0 985.3h0M1724.4 995.2h0M1733.3 995.2h0M1797.1 1031.6h0M1662.0 1091.0h0M1668.0 1086.0h0M1821.8 1121.7h0M1913.7 1242.4h0M1922.6 1241.4h0M1873.2 1261.1h0M1894.9 1261.1h0M1903.0 1241.7h0M1912.8 1260.5h0M1931.6 1260.5h0M1946.4 1263.4h0M1958.3 1257.5h0M1986.0 1257.5h0M1990.0 1260.0h0M2019.6 1256.5h0M2032.4 1252.5h0M2041.3 1256.5h0M2051.2 1254.5h0M2059.1 1256.5h0M2068.0 1251.6h0M2074.9 1255.5h0M2095.7 1252.5h0" fill="none" stroke="#000" stroke-width="10" stroke-linecap="round"/>
<polyline points="174.0,1253.16 175.0,1252.15 176.0,1251.15 177.0,1250.21 178.0,1249.36 179.0,1248.63 180.0,1248.06 181.0,1247.65 182.0,1247.44 183.0,1247.42 184.0,1247.59 185.0,1247.96 186.0,1248.50 187.0,1249.20 188.0,1250.03 189.0,1250.96 190.0,1251.95 191.0,1252.96 192.0,1253.96 193.0,1254.91 194.0,1255.77 195.0,1256.51 196.0,1257.10 197.0,1257.52 198.0,1257.75 199.0,1257.79 200.0,1257.63 201.0,1257.28 202.0,1256.75 203.0,1256.06 204.0,1255.25 205.0,1254.33 206.0,1253.34 207.0,1252.33 208.0,1251.33 209.0,1250.37 210.0,1249.51 211.0,1248.75 212.0,1248.15 213.0,1247.71 214.0,1247.46 215.0,1247.40 216.0,1247.55 217.0,1247.88 218.0,1248.39 219.0,1249.07 220.0,1249.88 221.0,1250.79 222.0,1251.77 223.0,1252.78 224.0,1253.78 225.0,1254.74 226.0,1255.62 227.0,1256.38 228.0,1257.00 229.0,1257.46 230.0,1257.73 231.0,1257.80 232.0,1257.67 233.0,1257.36 234.0,1256.86 235.0,1256.20 236.0,1255.40 237.0,1254.50 238.0,1253.52 239.0,1252.51 240.0,1251.51 241.0,1250.54 242.0,1249.65 243.0,1248.88 244.0,1248.24 245.0,1247.78 246.0,1247.49 247.0,1247.40 248.0,1247.51 249.0,1247.81 250.0,1248.29 251.0,1248.94 252.0,1249.72 253.0,1250.62 254.0,1251.59 255.0,1252.59 256.0,1253.60 257.0,1254.57 258.0,1255.47 259.0,1256.26 260.0,1256.90 261.0,1257.39 262.0,1257.69 263.0,1257.80 264.0,1257.71 265.0,1257.43 266.0,1256.96 267.0,1256.33 268.0,1255.55 269.0,1254.67 270.0,1253.70 271.0,1252.70 272.0,1251.69 273.0,1250.71 274.0,1249.81 275.0,1249.01 276.0,1248.35 277.0,1247.85 278.0,1247.53 279.0,1247.40 280.0,1247.47 281.0,1247.74 282.0,1248.19 283.0,1248.81 284.0,1249.57 285.0,1250.45 286.0,1251.41 287.0,1252.41 288.0,1253.42 289.0,1254.40 290.0,1255.32 291.0,1256.13 292.0,1256.80 293.0,1257.31 294.0,1257.65 295.0,1257.79 296.0,1257.74 297.0,1257.49 298.0,1257.06 299.0,1256.45 300.0,1255.70 301.0,1254.83 302.0,1253.88 303.0,1252.88 304.0,1251.87 305.0,1250.88 306.0,1249.96 307.0,1249.14 308.0,1248.45 309.0,1247.92 310.0,1247.57 311.0,1247.41 312.0,1247.45 313.0,1247.68 314.0,1248.10 315.0,1248.69 316.0,1249.42 317.0,1250.28 318.0,1251.23 319.0,1252.23 320.0,1253.24 321.0,1254.23 322.0,1255.16 323.0,1255.99 324.0,1256.69 325.0,1257.23 326.0,1257.60 327.0,1257.78 328.0,1257.77 329.0,1257.55 330.0,1257.15 331.0,1256.57 332.0,1255.85 333.0,1255.00 334.0,1254.06 335.0,1253.06 336.0,1252.05 337.0,1251.06 338.0,1250.12 339.0,1249.28 340.0,1248.57 341.0,1248.01 342.0,1247.62 343.0,1247.42 344.0,1247.42 345.0,1247.62 346.0,1248.01 347.0,1248.57 348.0,1249.28 349.0,1250.12 350.0,1251.06 351.0,1252.05 352.0,1253.06 353.0,1254.06 354.0,1255.00 355.0,1255.85 356.0,1256.57 357.0,1257.15 358.0,1257.55 359.0,1257.77 360.0,1257.78 361.0,1257.60 362.0,1257.23 363.0,1256.69 364.0,1255.99 365.0,1255.16 366.0,1254.23 367.0,1253.24 368.0,1252.23 369.0,1251.23 370.0,1250.28 371.0,1249.42 372.0,1248.69 373.0,1248.10 374.0,1247.68 375.0,1247.45 376.0,1247.41 377.0,1247.57 378.0,1247.92 379.0,1248.45 380.0,1249.14 381.0,1249.96 382.0,1250.88 383.0,1251.87 384.0,1252.88 385.0,1253.88 386.0,1254.83 387.0,1255.70 388.0,1256.45 389.0,1257.06 390.0,1257.49 391.0,1257.74 392.0,1257.79 393.0,1257.65 394.0,1257.31 395.0,1256.80 396.0,1256.13 397.0,1255.32 398.0,1254.40 399.0,1253.42 400.0,1252.41 401.0,1251.41 402.0,1250.45 403.0,1249.57 404.0,1248.81 405.0,1248.19 406.0,1247.74 407.0,1247.47 408.0,1247.40 409.0,1247.53 410.0,1247.85 411.0,1248.35 412.0,1249.01 413.0,1249.81 414.0,1250.71 415.0,1251.69 416.0,1252.70 417.0,1253.70 418.0,1254.67 419.0,1255.55 420.0,1256.33 421.0,1256.96 422.0,1257.43 423.0,1257.71 424.0,1257.80 425.0,1257.69 426.0,1257.39 427.0,1256.90 428.0,1256.26 429.0,1255.47 430.0,1254.57 431.0,1253.60 432.0,1252.59 433.0,1251.59 434.0,1250.62 435.0,1249.72 436.0,1248.94 437.0,1248.29 438.0,1247.81 439.0,1247.51 440.0,1247.40 441.0,1247.49 442.0,1247.78 443.0,1248.24 444.0,1248.88 445.0,1249.65 446.0,1250.54 447.0,1251.51 448.0,1252.51 449.0,1253.52 450.0,1254.50 451.0,1255.40 452.0,1256.20 453.0,1256.86 454.0,1257.36 455.0,1257.67 456.0,1257.80 457.0,1257.73 458.0,1257.46 459.0,1257.00 460.0,1256.38 461.0,1255.62 462.0,1254.74 463.0,1253.78 464.0,1252.78 465.0,1251.77 466.0,1250.79 467.0,1249.88 468.0,1249.07 469.0,1248.39 470.0,1247.88 471.0,1247.55 472.0,1247.40 473.0,1247.46 474.0,1247.71 475.0,1248.15 476.0,1248.75 477.0,1249.51 478.0,1250.37 479.0,1251.33 480.0,1252.33 481.0,1253.34 482.0,1254.33 483.0,1255.25 484.0,1256.06 485.0,1256.75 486.0,1257.28 487.0,1257.63 488.0,1257.79 489.0,1257.75 490.0,1257.52 491.0,1257.10 492.0,1256.51 493.0,1255.77 494.0,1254.91 495.0,1253.96 496.0,1252.96 497.0,1251.95 498.0,1250.96 499.0,1250.03 500.0,1249.20 501.0,1248.50 502.0,1247.96 503.0,1247.59 504.0,1247.42 505.0,1247.44 506.0,1247.65 507.0,1248.06 508.0,1248.63 509.0,1249.36 510.0,1250.21 511.0,1251.15 512.0,1252.15 513.0,1253.16 514.0,1254.15 515.0,1255.09 516.0,1255.93 517.0,1256.64 518.0,1257.20 519.0,1257.58 520.0,1257.78 521.0,1257.77 522.0,1257.58 523.0,1257.19 524.0,1256.63 525.0,1255.91 526.0,1255.07 527.0,1254.14 528.0,1253.14 529.0,1252.13 530.0,1251.13 531.0,1250.19 532.0,1249.34 533.0,1248.62 534.0,1248.05 535.0,1247.65 536.0,1247.43 537.0,1247.42 538.0,1247.60 539.0,1247.97 540.0,1248.52 541.0,1249.22 542.0,1250.05 543.0,1250.98 544.0,1251.97 545.0,1252.98 546.0,1253.98 547.0,1254.93 548.0,1255.78 549.0,1256.52 550.0,1257.11 551.0,1257.53 552.0,1257.76 553.0,1257.79 554.0,1257.63 555.0,1257.27 556.0,1256.74 557.0,1256.05 558.0,1255.23 559.0,1254.31 560.0,1253.32 561.0,1252.31 562.0,1251.31 563.0,1250.36 564.0,1249.49 565.0,1248.74 566.0,1248.14 567.0,1247.70 568.0,1247.46 569.0,1247.41 570.0,1247.55 571.0,1247.89 572.0,1248.41 573.0,1249.08 574.0,1249.89 575.0,1250.81 576.0,1251.79 577.0,1252.80 578.0,1253.80 579.0,1254.76 580.0,1255.64 581.0,1256.40 582.0,1257.02 583.0,1257.46 584.0,1257.73 585.0,1257.80 586.0,1257.67 587.0,1257.35 588.0,1256.85 589.0,1256.18 590.0,1255.39 591.0,1254.48 592.0,1253.50 593.0,1252.49 594.0,1251.49 595.0,1250.52 596.0,1249.64 597.0,1248.86 598.0,1248.23 599.0,1247.77 600.0,1247.49 601.0,1247.40 602.0,1247.51 603.0,1247.81 604.0,1248.30 605.0,1248.95 606.0,1249.74 607.0,1250.63 608.0,1251.61 609.0,1252.62 610.0,1253.62 611.0,1254.59 612.0,1255.49 613.0,1256.27 614.0,1256.92 615.0,1257.40 616.0,1257.70 617.0,1257.80 618.0,1257.71 619.0,1257.42 620.0,1256.95 621.0,1256.31 622.0,1255.54 623.0,1254.65 624.0,1253.68 625.0,1252.68 626.0,1251.67 627.0,1250.69 628.0,1249.79 629.0,1248.99 630.0,1248.34 631.0,1247.84 632.0,1247.52 633.0,1247.40 634.0,1247.48 635.0,1247.75 636.0,1248.20 637.0,1248.82 638.0,1249.59 639.0,1250.47 640.0,1251.43 641.0,1252.43 642.0,1253.44 643.0,1254.42 644.0,1255.33 645.0,1256.14 646.0,1256.81 647.0,1257.32 648.0,1257.66 649.0,1257.80 650.0,1257.74 651.0,1257.49 652.0,1257.05 653.0,1256.44 654.0,1255.69 655.0,1254.82 656.0,1253.86 657.0,1252.86 658.0,1251.85 659.0,1250.86 660.0,1249.94 661.0,1249.13 662.0,1248.44 663.0,1247.92 664.0,1247.57 665.0,1247.41 666.0,1247.45 667.0,1247.68 668.0,1248.11 669.0,1248.70 670.0,1249.44 671.0,1250.30 672.0,1251.25 673.0,1252.25 674.0,1253.26 675.0,1254.25 676.0,1255.18 677.0,1256.00 678.0,1256.70 679.0,1257.24 680.0,1257.61 681.0,1257.78 682.0,1257.76 683.0,1257.55 684.0,1257.14 685.0,1256.56 686.0,1255.83 687.0,1254.98 688.0,1254.04 689.0,1253.04 690.0,1252.03 691.0,1251.04 692.0,1250.10 693.0,1249.27 694.0,1248.55 695.0,1248.00 696.0,1247.62 697.0,1247.42 698.0,1247.43 699.0,1247.63 700.0,1248.02 701.0,1248.58 702.0,1249.30 703.0,1250.14 704.0,1251.07 705.0,1252.07 706.0,1253.08 707.0,1254.08 708.0,1255.02 709.0,1255.86 710.0,1256.59 711.0,1257.16 712.0,1257.56 713.0,1257.77 714.0,1257.78 715.0,1257.60 716.0,1257.23 717.0,1256.68 718.0,1255.97 719.0,1255.14 720.0,1254.21 721.0,1253.22 722.0,1252.21 723.0,1251.21 724.0,1250.27 725.0,1249.41 726.0,1248.67 727.0,1248.09 728.0,1247.67 729.0,1247.44 730.0,1247.41 731.0,1247.58 732.0,1247.93 733.0,1248.47 734.0,1249.16 735.0,1249.98 736.0,1250.90 737.0,1251.89 738.0,1252.90 739.0,1253.90 740.0,1254.85 741.0,1255.72 742.0,1256.47 743.0,1257.07 744.0,1257.50 745.0,1257.74 746.0,1257.79 747.0,1257.65 748.0,1257.31 749.0,1256.79 750.0,1256.11 751.0,1255.30 752.0,1254.39 753.0,1253.40 754.0,1252.39 755.0,1251.39 756.0,1250.43 757.0,1249.55 758.0,1248.79 759.0,1248.18 760.0,1247.73 761.0,1247.47 762.0,1247.40 763.0,1247.53 764.0,1247.86 765.0,1248.36 766.0,1249.02 767.0,1249.82 768.0,1250.73 769.0,1251.71 770.0,1252.72 771.0,1253.72 772.0,1254.69 773.0,1255.57 774.0,1256.34 775.0,1256.97 776.0,1257.44 777.0,1257.71 778.0,1257.80 779.0,1257.69 780.0,1257.38 781.0,1256.89 782.0,1256.24 783.0,1255.45 784.0,1254.56 785.0,1253.58 786.0,1252.57 787.0,1251.57 788.0,1250.60 789.0,1249.70 790.0,1248.92 791.0,1248.28 792.0,1247.80 793.0,1247.50 794.0,1247.40 795.0,1247.49 796.0,1247.78 797.0,1248.26 798.0,1248.89 799.0,1249.67 800.0,1250.56 801.0,1251.53 802.0,1252.53 803.0,1253.54 804.0,1254.52 805.0,1255.42 806.0,1256.21 807.0,1256.87 808.0,1257.36 809.0,1257.68 810.0,1257.80 811.0,1257.72 812.0,1257.45 813.0,1256.99 814.0,1256.37 815.0,1255.60 816.0,1254.72 817.0,1253.76 818.0,1252.76 819.0,1251.75 820.0,1250.77 821.0,1249.86 822.0,1249.05 823.0,1248.38 824.0,1247.87 825.0,1247.54 826.0,1247.40 827.0,1247.46 828.0,1247.72 829.0,1248.16 830.0,1248.77 831.0,1249.52 832.0,1250.39 833.0,1251.35 834.0,1252.35 835.0,1253.36 836.0,1254.35 837.0,1255.26 838.0,1256.08 839.0,1256.76 840.0,1257.29 841.0,1257.64 842.0,1257.79 843.0,1257.75 844.0,1257.51 845.0,1257.09 846.0,1256.49 847.0,1255.75 848.0,1254.89 849.0,1253.94 850.0,1252.94 851.0,1251.93 852.0,1250.94 853.0,1250.01 854.0,1249.19 855.0,1248.49 856.0,1247.95 857.0,1247.59 858.0,1247.41 859.0,1247.44 860.0,1247.66 861.0,1248.07 862.0,1248.65 863.0,1249.38 864.0,1250.23 865.0,1251.17 866.0,1252.17 867.0,1253.18 868.0,1254.17 869.0,1255.11 870.0,1255.94 871.0,1256.65 872.0,1257.21 873.0,1257.59 874.0,1257.78 875.0,1257.77 876.0,1257.57 877.0,1257.18 878.0,1256.61 879.0,1255.90 880.0,1255.05 881.0,1254.12 882.0,1253.12 883.0,1252.11 884.0,1251.11 885.0,1250.17 886.0,1249.33 887.0,1248.61 888.0,1248.04 889.0,1247.64 890.0,1247.43 891.0,1247.42 892.0,1247.60 893.0,1247.98 894.0,1248.53 895.0,1249.23 896.0,1250.07 897.0,1251.00 898.0,1251.99 899.0,1253.00 900.0,1254.00 901.0,1254.94 902.0,1255.80 903.0,1256.53 904.0,1257.12 905.0,1257.53 906.0,1257.76 907.0,1257.79 908.0,1257.62 909.0,1257.26 910.0,1256.73 911.0,1256.03 912.0,1255.21 913.0,1254.29 914.0,1253.30 915.0,1252.29 916.0,1251.29 917.0,1250.34 918.0,1249.47 919.0,1248.73 920.0,1248.13 921.0,1247.70 922.0,1247.45 923.0,1247.41 924.0,1247.56 925.0,1247.90 926.0,1248.42 927.0,1249.10 928.0,1249.91 929.0,1250.82 930.0,1251.81 931.0,1252.82 932.0,1253.82 933.0,1254.78 934.0,1255.65 935.0,1256.41 936.0,1257.03 937.0,1257.47 938.0,1257.73 939.0,1257.80 940.0,1257.66 941.0,1257.34 942.0,1256.84 943.0,1256.17 944.0,1255.37 945.0,1254.46 946.0,1253.48 947.0,1252.47 948.0,1251.47 949.0,1250.50 950.0,1249.62 951.0,1248.85 952.0,1248.22 953.0,1247.76 954.0,1247.48 955.0,1247.40 956.0,1247.52 957.0,1247.82 958.0,1248.31 959.0,1248.96 960.0,1249.75 961.0,1250.65 962.0,1251.63 963.0,1252.64 964.0,1253.64 965.0,1254.61 966.0,1255.50 967.0,1256.29 968.0,1256.93 969.0,1257.40 970.0,1257.70 971.0,1257.80 972.0,1257.70 973.0,1257.41 974.0,1256.94 975.0,1256.30 976.0,1255.52 977.0,1254.63 978.0,1253.66 979.0,1252.66 980.0,1251.65 981.0,1250.67 982.0,1249.77 983.0,1248.98 984.0,1248.32 985.0,1247.83 986.0,1247.52 987.0,1247.40 988.0,1247.48 989.0,1247.75 990.0,1248.21 991.0,1248.84 992.0,1249.60 993.0,1250.49 994.0,1251.45 995.0,1252.45 996.0,1253.46 997.0,1254.44 998.0,1255.35 999.0,1256.15 1000.0,1256.82 1001.0,1257.33 1002.0,1257.66 1003.0,1257.80 1004.0,1257.74 1005.0,1257.48 1006.0,1257.04 1007.0,1256.43 1008.0,1255.67 1009.0,1254.80 1010.0,1253.84 1011.0,1252.84 1012.0,1251.83 1013.0,1250.84 1014.0,1249.93 1015.0,1249.11 1016.0,1248.43 1017.0,1247.91 1018.0,1247.56 1019.0,1247.41 1020.0,1247.45 1021.0,1247.69 1022.0,1248.12 1023.0,1248.71 1024.0,1249.46 1025.0,1250.32 1026.0,1251.27 1027.0,1252.27 1028.0,1253.28 1029.0,1254.27 1030.0,1255.19 1031.0,1256.02 1032.0,1256.71 1033.0,1257.25 1034.0,1257.62 1035.0,1257.79 1036.0,1257.76 1037.0,1257.54 1038.0,1257.13 1039.0,1256.55 1040.0,1255.82 1041.0,1254.96 1042.0,1254.02 1043.0,1253.02 1044.0,1252.01 1045.0,1251.02 1046.0,1250.09 1047.0,1249.25 1048.0,1248.54 1049.0,1247.99 1050.0,1247.61 1051.0,1247.42 1052.0,1247.43 1053.0,1247.63 1054.0,1248.03 1055.0,1248.59 1056.0,1249.31 1057.0,1250.16 1058.0,1251.09 1059.0,1252.09 1060.0,1253.10 1061.0,1254.10 1062.0,1255.03 1063.0,1255.88 1064.0,1256.60 1065.0,1257.17 1066.0,1257.56 1067.0,1257.77 1068.0,1257.78 1069.0,1257.59 1070.0,1257.22 1071.0,1256.66 1072.0,1255.96 1073.0,1255.12 1074.0,1254.19 1075.0,1253.20 1076.0,1252.19 1077.0,1251.19 1078.0,1250.25 1079.0,1249.39 1080.0,1248.66 1081.0,1248.08 1082.0,1247.66 1083.0,1247.44 1084.0,1247.41 1085.0,1247.58 1086.0,1247.94 1087.0,1248.48 1088.0,1249.17 1089.0,1250.00 1090.0,1250.92 1091.0,1251.91 1092.0,1252.92 1093.0,1253.92 1094.0,1254.87 1095.0,1255.74 1096.0,1256.48 1097.0,1257.08 1098.0,1257.51 1099.0,1257.75 1100.0,1257.79 1101.0,1257.64 1102.0,1257.30 1103.0,1256.78 1104.0,1256.10 1105.0,1255.28 1106.0,1254.37 1107.0,1253.38 1108.0,1252.37 1109.0,1251.37 1110.0,1250.41 1111.0,1249.54 1112.0,1248.78 1113.0,1248.17 1114.0,1247.72 1115.0,1247.47 1116.0,1247.40 1117.0,1247.54 1118.0,1247.86 1119.0,1248.37 1120.0,1249.04 1121.0,1249.84 1122.0,1250.75 1123.0,1251.73 1124.0,1252.74 1125.0,1253.74 1126.0,1254.71 1127.0,1255.59 1128.0,1256.36 1129.0,1256.98 1130.0,1257.44 1131.0,1257.72 1132.0,1257.80 1133.0,1257.68 1134.0,1257.37 1135.0,1256.88 1136.0,1256.23 1137.0,1255.44 1138.0,1254.54 1139.0,1253.56 1140.0,1252.55 1141.0,1251.55 1142.0,1250.58 1143.0,1249.69 1144.0,1248.91 1145.0,1248.27 1146.0,1247.79 1147.0,1247.50 1148.0,1247.40 1149.0,1247.50 1150.0,1247.79 1151.0,1248.27 1152.0,1248.91 1153.0,1249.69 1154.0,1250.58 1155.0,1251.55 1156.0,1252.55 1157.0,1253.56 1158.0,1254.54 1159.0,1255.44 1160.0,1256.23 1161.0,1256.88 1162.0,1257.37 1163.0,1257.68 1164.0,1257.80 1165.0,1257.72 1166.0,1257.44 1167.0,1256.98 1168.0,1256.36 1169.0,1255.59 1170.0,1254.71 1171.0,1253.74 1172.0,1252.74 1173.0,1251.73 1174.0,1250.75 1175.0,1249.84 1176.0,1249.04 1177.0,1248.37 1178.0,1247.86 1179.0,1247.54 1180.0,1247.40 1181.0,1247.47 1182.0,1247.72 1183.0,1248.17 1184.0,1248.78 1185.0,1249.54 1186.0,1250.41 1187.0,1251.37 1188.0,1252.37 1189.0,1253.38 1190.0,1254.37 1191.0,1255.28 1192.0,1256.10 1193.0,1256.78 1194.0,1257.30 1195.0,1257.64 1196.0,1257.79 1197.0,1257.75 1198.0,1257.51 1199.0,1257.08 1200.0,1256.48 1201.0,1255.74 1202.0,1254.87 1203.0,1253.92 1204.0,1252.92 1205.0,1251.91 1206.0,1250.92 1207.0,1250.00 1208.0,1249.17 1209.0,1248.48 1210.0,1247.94 1211.0,1247.58 1212.0,1247.41 1213.0,1247.44 1214.0,1247.66 1215.0,1248.08 1216.0,1248.66 1217.0,1249.39 1218.0,1250.25 1219.0,1251.19 1220.0,1252.19 1221.0,1253.20 1222.0,1254.19 1223.0,1255.12 1224.0,1255.96 1225.0,1256.66 1226.0,1257.22 1227.0,1257.59 1228.0,1257.78 1229.0,1257.77 1230.0,1257.56 1231.0,1257.17 1232.0,1256.60 1233.0,1255.88 1234.0,1255.03 1235.0,1254.10 1236.0,1253.10 1237.0,1252.09 1238.0,1251.09 1239.0,1250.16 1240.0,1249.31 1241.0,1248.59 1242.0,1248.03 1243.0,1247.63 1244.0,1247.43 1245.0,1247.42 1246.0,1247.61 1247.0,1247.99 1248.0,1248.54 1249.0,1249.25 1250.0,1250.09 1251.0,1251.02 1252.0,1252.01 1253.0,1253.02 1254.0,1254.02 1255.0,1254.96 1256.0,1255.82 1257.0,1256.55 1258.0,1257.13 1259.0,1257.54 1260.0,1257.76 1261.0,1257.79 1262.0,1257.62 1263.0,1257.25 1264.0,1256.71 1265.0,1256.02 1266.0,1255.19 1267.0,1254.27 1268.0,1253.28 1269.0,1252.27 1270.0,1251.27 1271.0,1250.32 1272.0,1249.46 1273.0,1248.71 1274.0,1248.12 1275.0,1247.69 1276.0,1247.45 1277.0,1247.41 1278.0,1247.56 1279.0,1247.91 1280.0,1248.43 1281.0,1249.11 1282.0,1249.93 1283.0,1250.84 1284.0,1251.83 1285.0,1252.84 1286.0,1253.84 1287.0,1254.80 1288.0,1255.67 1289.0,1256.43 1290.0,1257.04 1291.0,1257.48 1292.0,1257.74 1293.0,1257.80 1294.0,1257.66 1295.0,1257.33 1296.0,1256.82 1297.0,1256.15 1298.0,1255.35 1299.0,1254.44 1300.0,1253.46 1301.0,1252.45 1302.0,1251.45 1303.0,1250.49 1304.0,1249.60 1305.0,1248.84 1306.0,1248.21 1307.0,1247.75 1308.0,1247.48 1309.0,1247.40 1310.0,1247.52 1311.0,1247.83 1312.0,1248.32 1313.0,1248.98 1314.0,1249.77 1315.0,1250.67 1316.0,1251.65 1317.0,1252.66 1318.0,1253.66 1319.0,1254.63 1320.0,1255.52 1321.0,1256.30 1322.0,1256.94 1323.0,1257.41 1324.0,1257.70 1325.0,1257.80 1326.0,1257.70 1327.0,1257.40 1328.0,1256.93 1329.0,1256.29 1330.0,1255.50 1331.0,1254.61 1332.0,1253.64 1333.0,1252.64 1334.0,1251.63 1335.0,1250.65 1336.0,1249.75 1337.0,1248.96 1338.0,1248.31 1339.0,1247.82 1340.0,1247.52 1341.0,1247.40 1342.0,1247.48 1343.0,1247.76 1344.0,1248.22 1345.0,1248.85 1346.0,1249.62 1347.0,1250.50 1348.0,1251.47 1349.0,1252.47 1350.0,1253.48 1351.0,1254.46 1352.0,1255.37 1353.0,1256.17 1354.0,1256.84 1355.0,1257.34 1356.0,1257.66 1357.0,1257.80 1358.0,1257.73 1359.0,1257.47 1360.0,1257.03 1361.0,1256.41 1362.0,1255.65 1363.0,1254.78 1364.0,1253.82 1365.0,1252.82 1366.0,1251.81 1367.0,1250.82 1368.0,1249.91 1369.0,1249.10 1370.0,1248.42 1371.0,1247.90 1372.0,1247.56 1373.0,1247.41 1374.0,1247.45 1375.0,1247.70 1376.0,1248.13 1377.0,1248.73 1378.0,1249.47 1379.0,1250.34 1380.0,1251.29 1381.0,1252.29 1382.0,1253.30 1383.0,1254.29 1384.0,1255.21 1385.0,1256.03 1386.0,1256.73 1387.0,1257.26 1388.0,1257.62 1389.0,1257.79 1390.0,1257.76 1391.0,1257.53 1392.0,1257.12 1393.0,1256.53 1394.0,1255.80 1395.0,1254.94 1396.0,1254.00 1397.0,1253.00 1398.0,1251.99 1399.0,1251.00 1400.0,1250.07 1401.0,1249.23 1402.0,1248.53 1403.0,1247.98 1404.0,1247.60 1405.0,1247.42 1406.0,1247.43 1407.0,1247.64 1408.0,1248.04 1409.0,1248.61 1410.0,1249.33 1411.0,1250.17 1412.0,1251.11 1413.0,1252.11 1414.0,1253.12 1415.0,1254.12 1416.0,1255.05 1417.0,1255.90 1418.0,1256.61 1419.0,1257.18 1420.0,1257.57 1421.0,1257.77 1422.0,1257.78 1423.0,1257.59 1424.0,1257.21 1425.0,1256.65 1426.0,1255.94 1427.0,1255.11 1428.0,1254.17 1429.0,1253.18 1430.0,1252.17 1431.0,1251.17 1432.0,1250.23 1433.0,1249.38 1434.0,1248.65 1435.0,1248.07 1436.0,1247.66 1437.0,1247.44 1438.0,1247.41 1439.0,1247.59 1440.0,1247.95 1441.0,1248.49 1442.0,1249.19 1443.0,1250.01 1444.0,1250.94 1445.0,1251.93 1446.0,1252.94 1447.0,1253.94 1448.0,1254.89 1449.0,1255.75 1450.0,1256.49 1451.0,1257.09 1452.0,1257.51 1453.0,1257.75 1454.0,1257.79 1455.0,1257.64 1456.0,1257.29 1457.0,1256.76 1458.0,1256.08 1459.0,1255.26 1460.0,1254.35 1461.0,1253.36 1462.0,1252.35 1463.0,1251.35 1464.0,1250.39 1465.0,1249.52 1466.0,1248.77 1467.0,1248.16 1468.0,1247.72 1469.0,1247.46 1470.0,1247.40 1471.0,1247.54 1472.0,1247.87 1473.0,1248.38 1474.0,1249.05 1475.0,1249.86 1476.0,1250.77 1477.0,1251.75 1478.0,1252.76 1479.0,1253.76 1480.0,1254.72 1481.0,1255.60 1482.0,1256.37 1483.0,1256.99 1484.0,1257.45 1485.0,1257.72 1486.0,1257.80 1487.0,1257.68 1488.0,1257.36 1489.0,1256.87 1490.0,1256.21 1491.0,1255.42 1492.0,1254.52 1493.0,1253.54 1494.0,1252.53 1495.0,1251.53 1496.0,1250.56 1497.0,1249.67 1498.0,1248.89 1499.0,1248.26 1500.0,1247.78 1501.0,1247.49 1502.0,1247.40 1503.0,1247.50 1504.0,1247.80 1505.0,1248.28 1506.0,1248.92 1507.0,1249.70 1508.0,1250.60 1509.0,1251.57 1510.0,1252.57 1511.0,1253.58 1512.0,1254.56 1513.0,1255.45 1514.0,1256.24 1515.0,1256.89 1516.0,1257.38 1517.0,1257.69 1518.0,1257.80 1519.0,1257.71 1520.0,1257.44 1521.0,1256.97 1522.0,1256.34 1523.0,1255.57 1524.0,1254.69 1525.0,1253.72 1526.0,1252.72 1527.0,1251.71 1528.0,1250.73 1529.0,1249.82 1530.0,1249.02 1531.0,1248.36 1532.0,1247.86 1533.0,1247.53 1534.0,1247.40 1535.0,1247.47 1536.0,1247.73 1537.0,1248.18 1538.0,1248.79 1539.0,1249.55 1540.0,1250.43 1541.0,1251.39 1542.0,1252.39 1543.0,1253.40 1544.0,1254.39 1545.0,1255.30 1546.0,1256.11 1547.0,1256.79 1548.0,1257.31 1549.0,1257.65 1550.0,1257.79 1551.0,1257.74 1552.0,1257.50 1553.0,1257.07 1554.0,1256.47 1555.0,1255.72 1556.0,1254.85 1557.0,1253.90 1558.0,1252.90 1559.0,1251.89 1560.0,1250.90 1561.0,1249.98 1562.0,1249.16 1563.0,1248.47 1564.0,1247.93 1565.0,1247.58 1566.0,1247.41 1567.0,1247.44 1568.0,1247.67 1569.0,1248.09 1570.0,1248.67 1571.0,1249.41 1572.0,1250.27 1573.0,1251.21 1574.0,1252.21 1575.0,1253.22 1576.0,1254.21 1577.0,1255.14 1578.0,1255.97 1579.0,1256.68 1580.0,1257.23 1581.0,1257.60 1582.0,1257.78 1583.0,1257.77 1584.0,1257.56 1585.0,1257.16 1586.0,1256.59 1587.0,1255.86 1588.0,1255.02 1589.0,1254.08 1590.0,1253.08 1591.0,1252.07 1592.0,1251.07 1593.0,1250.14 1594.0,1249.30 1595.0,1248.58 1596.0,1248.02 1597.0,1247.63 1598.0,1247.43 1599.0,1247.42 1600.0,1247.62 1601.0,1248.00 1602.0,1248.55 1603.0,1249.27 1604.0,1250.10 1605.0,1251.04 1606.0,1252.03 1607.0,1253.04 1608.0,1254.04 1609.0,1254.98 1610.0,1255.83 1611.0,1256.56 1612.0,1257.14 1613.0,1257.55 1614.0,1257.76 1615.0,1257.78 1616.0,1257.61 1617.0,1257.24 1618.0,1256.70 1619.0,1256.00 1620.0,1255.18 1621.0,1254.25 1622.0,1253.26 1623.0,1252.25 1624.0,1251.25 1625.0,1250.30 1626.0,1249.44 1627.0,1248.70 1628.0,1248.11 1629.0,1247.68 1630.0,1247.45 1631.0,1247.41 1632.0,1247.57 1633.0,1247.92 1634.0,1248.44 1635.0,1249.13 1636.0,1249.94 1637.0,1250.86 1638.0,1251.85 1639.0,1252.86 1640.0,1253.86 1641.0,1254.82 1642.0,1255.69 1643.0,1256.44 1644.0,1257.05 1645.0,1257.49 1646.0,1257.74 1647.0,1257.80 1648.0,1257.66 1649.0,1257.32 1650.0,1256.81 1651.0,1256.14 1652.0,1255.33 1653.0,1254.42 1654.0,1253.44 1655.0,1252.43 1656.0,1251.43 1657.0,1250.47 1658.0,1249.59 1659.0,1248.82 1660.0,1248.20 1661.0,1247.75 1662.0,1247.48 1663.0,1247.40 1664.0,1247.52 1665.0,1247.84 1666.0,1248.34 1667.0,1248.99 1668.0,1249.79 1669.0,1250.69 1670.0,1251.67 1671.0,1252.68 1672.0,1253.68 1673.0,1254.65 1674.0,1255.54 1675.0,1256.31 1676.0,1256.95 1677.0,1257.42 1678.0,1257.71 1679.0,1257.80 1680.0,1257.70 1681.0,1257.40 1682.0,1256.92 1683.0,1256.27 1684.0,1255.49 1685.0,1254.59 1686.0,1253.62 1687.0,1252.62 1688.0,1251.61 1689.0,1250.63 1690.0,1249.74 1691.0,1248.95 1692.0,1248.30 1693.0,1247.81 1694.0,1247.51 1695.0,1247.40 1696.0,1247.49 1697.0,1247.77 1698.0,1248.23 1699.0,1248.86 1700.0,1249.64 1701.0,1250.52 1702.0,1251.49 1703.0,1252.49 1704.0,1253.50 1705.0,1254.48 1706.0,1255.39 1707.0,1256.18 1708.0,1256.85 1709.0,1257.35 1710.0,1257.67 1711.0,1257.80 1712.0,1257.73 1713.0,1257.46 1714.0,1257.02 1715.0,1256.40 1716.0,1255.64 1717.0,1254.76 1718.0,1253.80 1719.0,1252.80 1720.0,1251.79 1721.0,1250.81 1722.0,1249.89 1723.0,1249.08 1724.0,1248.41 1725.0,1247.89 1726.0,1247.55 1727.0,1247.41 1728.0,1247.46 1729.0,1247.70 1730.0,1248.14 1731.0,1248.74 1732.0,1249.49 1733.0,1250.36 1734.0,1251.31 1735.0,1252.31 1736.0,1253.32 1737.0,1254.31 1738.0,1255.23 1739.0,1256.05 1740.0,1256.74 1741.0,1257.27 1742.0,1257.63 1743.0,1257.79 1744.0,1257.76 1745.0,1257.53 1746.0,1257.11 1747.0,1256.52 1748.0,1255.78 1749.0,1254.93 1750.0,1253.98 1751.0,1252.98 1752.0,1251.97 1753.0,1250.98 1754.0,1250.05 1755.0,1249.22 1756.0,1248.52 1757.0,1247.97 1758.0,1247.60 1759.0,1247.42 1760.0,1247.43 1761.0,1247.65 1762.0,1248.05 1763.0,1248.62 1764.0,1249.34 1765.0,1250.19 1766.0,1251.13 1767.0,1252.13 1768.0,1253.14 1769.0,1254.14 1770.0,1255.07 1771.0,1255.91 1772.0,1256.63 1773.0,1257.19 1774.0,1257.58 1775.0,1257.77 1776.0,1257.78 1777.0,1257.58 1778.0,1257.20 1779.0,1256.64 1780.0,1255.93 1781.0,1255.09 1782.0,1254.15 1783.0,1253.16 1784.0,1252.15 1785.0,1251.15 1786.0,1250.21 1787.0,1249.36 1788.0,1248.63 1789.0,1248.06 1790.0,1247.65 1791.0,1247.44 1792.0,1247.42 1793.0,1247.59 1794.0,1247.96 1795.0,1248.50 1796.0,1249.20 1797.0,1250.03 1798.0,1250.96 1799.0,1251.95 1800.0,1252.96 1801.0,1253.96 1802.0,1254.91 1803.0,1255.77 1804.0,1256.51 1805.0,1257.10 1806.0,1257.52 1807.0,1257.75 1808.0,1257.79 1809.0,1257.63 1810.0,1257.28 1811.0,1256.75 1812.0,1256.06 1813.0,1255.25 1814.0,1254.33 1815.0,1253.34 1816.0,1252.33 1817.0,1251.33 1818.0,1250.37 1819.0,1249.51 1820.0,1248.75 1821.0,1248.15 1822.0,1247.71 1823.0,1247.46 1824.0,1247.40 1825.0,1247.55 1826.0,1247.88 1827.0,1248.39 1828.0,1249.07 1829.0,1249.88 1830.0,1250.79 1831.0,1251.77 1832.0,1252.78 1833.0,1253.78 1834.0,1254.74 1835.0,1255.62 1836.0,1256.38 1837.0,1257.00 1838.0,1257.46 1839.0,1257.73 1840.0,1257.80 1841.0,1257.67 1842.0,1257.36 1843.0,1256.86 1844.0,1256.20 1845.0,1255.40 1846.0,1254.50 1847.0,1253.52 1848.0,1252.51 1849.0,1251.51 1850.0,1250.54 1851.0,1249.65 1852.0,1248.88 1853.0,1248.24 1854.0,1247.78 1855.0,1247.49 1856.0,1247.40 1857.0,1247.51 1858.0,1247.81 1859.0,1248.29 1860.0,1248.94 1861.0,1249.72 1862.0,1250.62 1863.0,1251.59 1864.0,1252.59 1865.0,1253.60 1866.0,1254.57 1867.0,1255.47 1868.0,1256.26 1869.0,1256.90 1870.0,1257.39 1871.0,1257.69 1872.0,1257.80 1873.0,1257.71 1874.0,1257.43 1875.0,1256.96 1876.0,1256.33 1877.0,1255.55 1878.0,1254.67 1879.0,1253.70 1880.0,1252.70 1881.0,1251.69 1882.0,1250.71 1883.0,1249.81 1884.0,1249.01 1885.0,1248.35 1886.0,1247.85 1887.0,1247.53 1888.0,1247.40 1889.0,1247.47 1890.0,1247.74 1891.0,1248.19 1892.0,1248.81 1893.0,1249.57 1894.0,1250.45 1895.0,1251.41 1896.0,1252.41 1897.0,1253.42 1898.0,1254.40 1899.0,1255.32 1900.0,1256.13 1901.0,1256.80 1902.0,1257.31 1903.0,1257.65 1904.0,1257.79 1905.0,1257.74 1906.0,1257.49 1907.0,1257.06 1908.0,1256.45 1909.0,1255.70 1910.0,1254.83 1911.0,1253.88 1912.0,1252.88 1913.0,1251.87 1914.0,1250.88 1915.0,1249.96 1916.0,1249.14 1917.0,1248.45 1918.0,1247.92 1919.0,1247.57 1920.0,1247.41 1921.0,1247.45 1922.0,1247.68 1923.0,1248.10 1924.0,1248.69 1925.0,1249.42 1926.0,1250.28 1927.0,1251.23 1928.0,1252.23 1929.0,1253.24 1930.0,1254.23 1931.0,1255.16 1932.0,1255.99 1933.0,1256.69 1934.0,1257.23 1935.0,1257.60 1936.0,1257.78 1937.0,1257.77 1938.0,1257.55 1939.0,1257.15 1940.0,1256.57 1941.0,1255.85 1942.0,1255.00 1943.0,1254.06 1944.0,1253.06 1945.0,1252.05 1946.0,1251.06 1947.0,1250.12 1948.0,1249.28 1949.0,1248.57 1950.0,1248.01 1951.0,1247.62 1952.0,1247.42 1953.0,1247.42 1954.0,1247.62 1955.0,1248.01 1956.0,1248.57 1957.0,1249.28 1958.0,1250.12 1959.0,1251.06 1960.0,1252.05 1961.0,1253.06 1962.0,1254.06 1963.0,1255.00 1964.0,1255.85 1965.0,1256.57 1966.0,1257.15 1967.0,1257.55 1968.0,1257.77 1969.0,1257.78 1970.0,1257.60 1971.0,1257.23 1972.0,1256.69 1973.0,1255.99 1974.0,1255.16 1975.0,1254.23 1976.0,1253.24 1977.0,1252.23 1978.0,1251.23 1979.0,1250.28 1980.0,1249.42 1981.0,1248.69 1982.0,1248.10 1983.0,1247.68 1984.0,1247.45 1985.0,1247.41 1986.0,1247.57 1987.0,1247.92 1988.0,1248.45 1989.0,1249.14 1990.0,1249.96 1991.0,1250.88 1992.0,1251.87 1993.0,1252.88 1994.0,1253.88 1995.0,1254.83 1996.0,1255.70 1997.0,1256.45 1998.0,1257.06 1999.0,1257.49 2000.0,1257.74 2001.0,1257.79 2002.0,1257.65 2003.0,1257.31 2004.0,1256.80 2005.0,1256.13 2006.0,1255.32 2007.0,1254.40 2008.0,1253.42 2009.0,1252.41 2010.0,1251.41 2011.0,1250.45 2012.0,1249.57 2013.0,1248.81 2014.0,1248.19 2015.0,1247.74 2016.0,1247.47 2017.0,1247.40 2018.0,1247.53 2019.0,1247.85 2020.0,1248.35 2021.0,1249.01 2022.0,1249.81 2023.0,1250.71 2024.0,1251.69 2025.0,1252.70 2026.0,1253.70 2027.0,1254.67 2028.0,1255.55 2029.0,1256.33 2030.0,1256.96 2031.0,1257.43 2032.0,1257.71 2033.0,1257.80 2034.0,1257.69 2035.0,1257.39 2036.0,1256.90 2037.0,1256.26 2038.0,1255.47 2039.0,1254.57 2040.0,1253.60 2041.0,1252.59 2042.0,1251.59 2043.0,1250.62 2044.0,1249.72 2045.0,1248.94 2046.0,1248.29 2047.0,1247.81 2048.0,1247.51 2049.0,1247.40 2050.0,1247.49 2051.0,1247.78 2052.0,1248.24 2053.0,1248.88 2054.0,1249.65 2055.0,1250.54 2056.0,1251.51 2057.0,1252.51 2058.0,1253.52 2059.0,1254.50 2060.0,1255.40 2061.0,1256.20 2062.0,1256.86 2063.0,1257.36 2064.0,1257.67 2065.0,1257.80 2066.0,1257.73 2067.0,1257.46 2068.0,1257.00 2069.0,1256.38 2070.0,1255.62 2071.0,1254.74 2072.0,1253.78 2073.0,1252.78 2074.0,1251.77 2075.0,1250.79 2076.0,1249.88 2077.0,1249.07 2078.0,1248.39 2079.0,1247.88 2080.0,1247.55 2081.0,1247.40 2082.0,1247.46 2083.0,1247.71 2084.0,1248.15 2085.0,1248.75 2086.0,1249.51 2087.0,1250.37 2088.0,1251.33 2089.0,1252.33 2090.0,1253.34 2091.0,1254.33 2092.0,1255.25 2093.0,1256.06 2094.0,1256.75 2095.0,1257.28 2096.0,1257.63 2097.0,1257.79 2098.0,1257.75 2099.0,1257.52 2100.0,1257.10 2101.0,1256.51 2102.0,1255.77 2103.0,1254.91 2104.0,1253.96 2105.0,1252.96 2106.0,1251.95" fill="none" stroke="#e0161e" stroke-width="3.9" stroke-linejoin="round"/>
</svg>
</body></html>
